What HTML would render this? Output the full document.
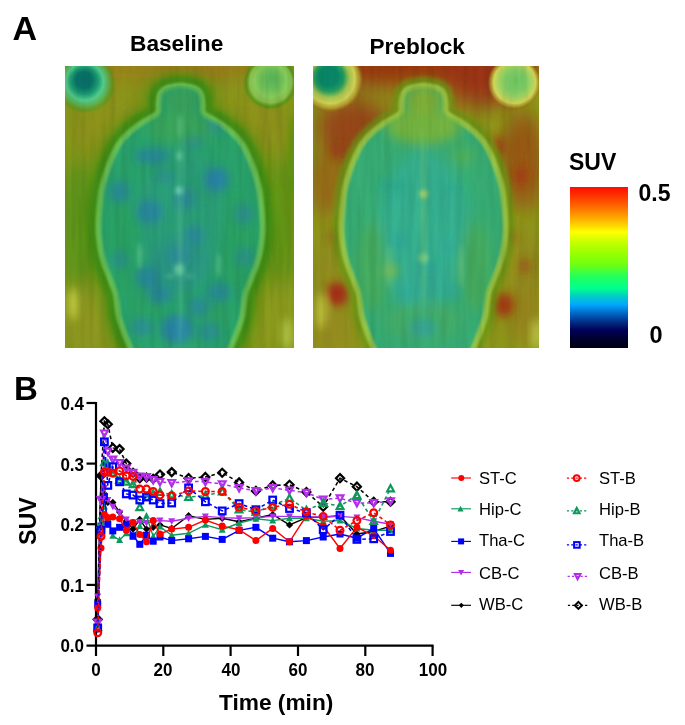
<!DOCTYPE html>
<html><head><meta charset="utf-8"><style>
html,body{margin:0;padding:0;background:#fff;}
body{width:685px;height:725px;position:relative;overflow:hidden;font-family:"Liberation Sans",sans-serif;color:#000;}
.abs{position:absolute;}
.t{position:absolute;white-space:nowrap;line-height:1;}
</style></head><body>
<svg class="abs" style="left:65px;top:66px" width="229" height="282" viewBox="0 0 229 282">
<defs>
<clipPath id="c0"><rect x="0" y="0" width="229" height="282"/></clipPath>
<filter id="b0a" x="-50%" y="-50%" width="200%" height="200%"><feGaussianBlur stdDeviation="10"/></filter>
<filter id="b0b" x="-50%" y="-50%" width="200%" height="200%"><feGaussianBlur stdDeviation="4"/></filter>
<filter id="b0c" x="-50%" y="-50%" width="200%" height="200%"><feGaussianBlur stdDeviation="2.2"/></filter>
<filter id="b0d" x="-50%" y="-50%" width="200%" height="200%"><feGaussianBlur stdDeviation="1.2"/></filter>
<filter id="b0e" x="-50%" y="-50%" width="200%" height="200%"><feGaussianBlur stdDeviation="6"/></filter>
<filter id="n0" x="0" y="0" width="100%" height="100%"><feTurbulence type="fractalNoise" baseFrequency="0.14 0.012" numOctaves="2" seed="3"/><feColorMatrix type="matrix" values="0 0 0 0 0  0 0 0 0 0  0 0 0 0 0  0 0 0 -1.6 1.0"/></filter>
<filter id="m0" x="0" y="0" width="100%" height="100%"><feTurbulence type="fractalNoise" baseFrequency="0.14 0.012" numOctaves="2" seed="7"/><feColorMatrix type="matrix" values="0 0 0 0 0  0 0 0 0 0  0 0 0 0 0  0 0 0 1.6 -0.6"/></filter>
</defs>
<g clip-path="url(#c0)">
<rect x="0" y="0" width="229" height="282" fill="#84981a"/>
<g filter="url(#b0a)">
<ellipse cx="60" cy="0" rx="90.0" ry="18.0" fill="#a0801c" opacity="0.8"/>
<ellipse cx="145" cy="0" rx="55.0" ry="14.0" fill="#a8701c" opacity="0.7"/>
<ellipse cx="50" cy="60" rx="50.0" ry="30.0" fill="#92921a" opacity="0.7"/>
<ellipse cx="180" cy="60" rx="50.0" ry="30.0" fill="#94901a" opacity="0.7"/>
<ellipse cx="14" cy="165" rx="22.0" ry="70.0" fill="#4e9618" opacity="0.7"/>
<ellipse cx="218" cy="160" rx="18.0" ry="70.0" fill="#549618" opacity="0.6"/>
<ellipse cx="20" cy="255" rx="30.0" ry="40.0" fill="#949a22" opacity="0.7"/>
<ellipse cx="215" cy="255" rx="25.0" ry="40.0" fill="#949e22" opacity="0.6"/>
</g>
<g filter="url(#b0b)">
<ellipse cx="228" cy="90" rx="3.0" ry="45.0" fill="#3e8c10" opacity="0.8"/>
<ellipse cx="225" cy="10" rx="12.0" ry="12.0" fill="#5a9a20" opacity="0.6"/>
<ellipse cx="8" cy="238" rx="4.0" ry="16.0" fill="#d8e050" opacity="0.9"/>
<ellipse cx="222" cy="268" rx="4.0" ry="16.0" fill="#c8e060" opacity="0.8"/>
<ellipse cx="215" cy="150" rx="8.0" ry="30.0" fill="#6a9818" opacity="0.5"/>
</g>
<defs><radialGradient id="g0_0" cx="0.5" cy="0.5" r="0.5" fx="0.47" fy="0.42"><stop offset="0" stop-color="#0a6c66" stop-opacity="1"/><stop offset="0.28" stop-color="#0a7468" stop-opacity="1"/><stop offset="0.45" stop-color="#1c9a70" stop-opacity="1"/><stop offset="0.62" stop-color="#52cc8c" stop-opacity="1"/><stop offset="0.78" stop-color="#5ab458" stop-opacity="0.9"/><stop offset="0.92" stop-color="#5a9a20" stop-opacity="0.6"/><stop offset="1" stop-color="#6a9a18" stop-opacity="0"/></radialGradient></defs>
<circle cx="20.5" cy="17.5" r="30" fill="url(#g0_0)"/>
<defs><radialGradient id="g0_1" cx="0.5" cy="0.5" r="0.5" fx="0.55" fy="0.4"><stop offset="0" stop-color="#58b458" stop-opacity="1"/><stop offset="0.35" stop-color="#6cc05a" stop-opacity="1"/><stop offset="0.6" stop-color="#88cc5a" stop-opacity="1"/><stop offset="0.78" stop-color="#88c050" stop-opacity="0.95"/><stop offset="0.9" stop-color="#4e9414" stop-opacity="0.7"/><stop offset="1" stop-color="#5a9018" stop-opacity="0"/></radialGradient></defs>
<circle cx="205" cy="17" r="27" fill="url(#g0_1)"/>
<path d="M115.5,19.5 C112.8,19.5 109.8,20.1 107.5,20.5 C105.2,20.9 103.2,21.2 101.5,22.0 C99.8,22.8 98.2,23.7 97.0,25.0 C95.8,26.3 95.1,27.8 94.5,30.0 C93.9,32.2 93.7,35.5 93.5,38.0 C93.3,40.5 94.0,43.2 93.5,45.0 C93.0,46.8 92.2,47.7 90.5,49.0 C88.8,50.3 85.8,51.7 83.5,53.0 C81.2,54.3 78.8,55.5 76.5,57.0 C74.2,58.5 71.8,60.2 69.5,62.0 C67.2,63.8 64.6,66.0 62.5,68.0 C60.4,70.0 58.8,71.7 57.0,74.0 C55.2,76.3 53.3,78.7 51.5,82.0 C49.7,85.3 47.7,90.0 46.0,94.0 C44.3,98.0 43.0,101.3 41.5,106.0 C40.0,110.7 38.1,116.8 37.0,122.0 C35.9,127.2 35.6,131.4 35.0,137.4 C34.4,143.4 33.7,152.2 33.5,158.0 C33.3,163.8 33.5,167.0 34.0,172.0 C34.5,177.0 35.5,183.3 36.5,188.0 C37.5,192.7 38.8,196.3 40.0,200.0 C41.2,203.7 42.8,206.8 44.0,210.0 C45.2,213.2 46.4,216.2 47.5,219.0 C48.6,221.8 49.8,224.0 50.5,227.0 C51.2,230.0 51.5,233.3 52.0,237.0 C52.5,240.7 52.8,245.3 53.5,249.0 C54.2,252.7 55.3,255.5 56.5,259.0 C57.7,262.5 59.0,266.2 60.5,270.0 C62.0,273.8 63.7,278.0 65.5,282.0 C67.3,286.0 63.2,291.0 71.5,294.0 C79.8,297.0 100.8,300.0 115.5,300.0 C130.2,300.0 151.2,297.0 159.5,294.0 C167.8,291.0 163.7,286.0 165.5,282.0 C167.3,278.0 169.0,273.8 170.5,270.0 C172.0,266.2 173.3,262.5 174.5,259.0 C175.7,255.5 176.8,252.7 177.5,249.0 C178.2,245.3 178.5,240.7 179.0,237.0 C179.5,233.3 179.8,230.0 180.5,227.0 C181.2,224.0 182.4,221.8 183.5,219.0 C184.6,216.2 185.8,213.2 187.0,210.0 C188.2,206.8 189.8,203.7 191.0,200.0 C192.2,196.3 193.5,192.7 194.5,188.0 C195.5,183.3 196.5,177.0 197.0,172.0 C197.5,167.0 197.7,163.8 197.5,158.0 C197.3,152.2 196.6,143.4 196.0,137.4 C195.4,131.4 195.1,127.2 194.0,122.0 C192.9,116.8 191.0,110.7 189.5,106.0 C188.0,101.3 186.7,98.0 185.0,94.0 C183.3,90.0 181.3,85.3 179.5,82.0 C177.7,78.7 175.8,76.3 174.0,74.0 C172.2,71.7 170.6,70.0 168.5,68.0 C166.4,66.0 163.8,63.8 161.5,62.0 C159.2,60.2 156.8,58.5 154.5,57.0 C152.2,55.5 149.8,54.3 147.5,53.0 C145.2,51.7 142.2,50.3 140.5,49.0 C138.8,47.7 138.0,46.8 137.5,45.0 C137.0,43.2 137.7,40.5 137.5,38.0 C137.3,35.5 137.1,32.2 136.5,30.0 C135.9,27.8 135.2,26.3 134.0,25.0 C132.8,23.7 131.2,22.8 129.5,22.0 C127.8,21.2 125.8,20.9 123.5,20.5 C121.2,20.1 118.2,19.5 115.5,19.5Z" fill="none" stroke="#4c9418" stroke-width="30" opacity="0.6" filter="url(#b0e)"/>
<path d="M115.5,19.5 C112.8,19.5 109.8,20.1 107.5,20.5 C105.2,20.9 103.2,21.2 101.5,22.0 C99.8,22.8 98.2,23.7 97.0,25.0 C95.8,26.3 95.1,27.8 94.5,30.0 C93.9,32.2 93.7,35.5 93.5,38.0 C93.3,40.5 94.0,43.2 93.5,45.0 C93.0,46.8 92.2,47.7 90.5,49.0 C88.8,50.3 85.8,51.7 83.5,53.0 C81.2,54.3 78.8,55.5 76.5,57.0 C74.2,58.5 71.8,60.2 69.5,62.0 C67.2,63.8 64.6,66.0 62.5,68.0 C60.4,70.0 58.8,71.7 57.0,74.0 C55.2,76.3 53.3,78.7 51.5,82.0 C49.7,85.3 47.7,90.0 46.0,94.0 C44.3,98.0 43.0,101.3 41.5,106.0 C40.0,110.7 38.1,116.8 37.0,122.0 C35.9,127.2 35.6,131.4 35.0,137.4 C34.4,143.4 33.7,152.2 33.5,158.0 C33.3,163.8 33.5,167.0 34.0,172.0 C34.5,177.0 35.5,183.3 36.5,188.0 C37.5,192.7 38.8,196.3 40.0,200.0 C41.2,203.7 42.8,206.8 44.0,210.0 C45.2,213.2 46.4,216.2 47.5,219.0 C48.6,221.8 49.8,224.0 50.5,227.0 C51.2,230.0 51.5,233.3 52.0,237.0 C52.5,240.7 52.8,245.3 53.5,249.0 C54.2,252.7 55.3,255.5 56.5,259.0 C57.7,262.5 59.0,266.2 60.5,270.0 C62.0,273.8 63.7,278.0 65.5,282.0 C67.3,286.0 63.2,291.0 71.5,294.0 C79.8,297.0 100.8,300.0 115.5,300.0 C130.2,300.0 151.2,297.0 159.5,294.0 C167.8,291.0 163.7,286.0 165.5,282.0 C167.3,278.0 169.0,273.8 170.5,270.0 C172.0,266.2 173.3,262.5 174.5,259.0 C175.7,255.5 176.8,252.7 177.5,249.0 C178.2,245.3 178.5,240.7 179.0,237.0 C179.5,233.3 179.8,230.0 180.5,227.0 C181.2,224.0 182.4,221.8 183.5,219.0 C184.6,216.2 185.8,213.2 187.0,210.0 C188.2,206.8 189.8,203.7 191.0,200.0 C192.2,196.3 193.5,192.7 194.5,188.0 C195.5,183.3 196.5,177.0 197.0,172.0 C197.5,167.0 197.7,163.8 197.5,158.0 C197.3,152.2 196.6,143.4 196.0,137.4 C195.4,131.4 195.1,127.2 194.0,122.0 C192.9,116.8 191.0,110.7 189.5,106.0 C188.0,101.3 186.7,98.0 185.0,94.0 C183.3,90.0 181.3,85.3 179.5,82.0 C177.7,78.7 175.8,76.3 174.0,74.0 C172.2,71.7 170.6,70.0 168.5,68.0 C166.4,66.0 163.8,63.8 161.5,62.0 C159.2,60.2 156.8,58.5 154.5,57.0 C152.2,55.5 149.8,54.3 147.5,53.0 C145.2,51.7 142.2,50.3 140.5,49.0 C138.8,47.7 138.0,46.8 137.5,45.0 C137.0,43.2 137.7,40.5 137.5,38.0 C137.3,35.5 137.1,32.2 136.5,30.0 C135.9,27.8 135.2,26.3 134.0,25.0 C132.8,23.7 131.2,22.8 129.5,22.0 C127.8,21.2 125.8,20.9 123.5,20.5 C121.2,20.1 118.2,19.5 115.5,19.5Z" fill="none" stroke="#3e8c12" stroke-width="20" opacity="0.85" filter="url(#b0c)"/>
<path d="M115.5,19.5 C112.8,19.5 109.8,20.1 107.5,20.5 C105.2,20.9 103.2,21.2 101.5,22.0 C99.8,22.8 98.2,23.7 97.0,25.0 C95.8,26.3 95.1,27.8 94.5,30.0 C93.9,32.2 93.7,35.5 93.5,38.0 C93.3,40.5 94.0,43.2 93.5,45.0 C93.0,46.8 92.2,47.7 90.5,49.0 C88.8,50.3 85.8,51.7 83.5,53.0 C81.2,54.3 78.8,55.5 76.5,57.0 C74.2,58.5 71.8,60.2 69.5,62.0 C67.2,63.8 64.6,66.0 62.5,68.0 C60.4,70.0 58.8,71.7 57.0,74.0 C55.2,76.3 53.3,78.7 51.5,82.0 C49.7,85.3 47.7,90.0 46.0,94.0 C44.3,98.0 43.0,101.3 41.5,106.0 C40.0,110.7 38.1,116.8 37.0,122.0 C35.9,127.2 35.6,131.4 35.0,137.4 C34.4,143.4 33.7,152.2 33.5,158.0 C33.3,163.8 33.5,167.0 34.0,172.0 C34.5,177.0 35.5,183.3 36.5,188.0 C37.5,192.7 38.8,196.3 40.0,200.0 C41.2,203.7 42.8,206.8 44.0,210.0 C45.2,213.2 46.4,216.2 47.5,219.0 C48.6,221.8 49.8,224.0 50.5,227.0 C51.2,230.0 51.5,233.3 52.0,237.0 C52.5,240.7 52.8,245.3 53.5,249.0 C54.2,252.7 55.3,255.5 56.5,259.0 C57.7,262.5 59.0,266.2 60.5,270.0 C62.0,273.8 63.7,278.0 65.5,282.0 C67.3,286.0 63.2,291.0 71.5,294.0 C79.8,297.0 100.8,300.0 115.5,300.0 C130.2,300.0 151.2,297.0 159.5,294.0 C167.8,291.0 163.7,286.0 165.5,282.0 C167.3,278.0 169.0,273.8 170.5,270.0 C172.0,266.2 173.3,262.5 174.5,259.0 C175.7,255.5 176.8,252.7 177.5,249.0 C178.2,245.3 178.5,240.7 179.0,237.0 C179.5,233.3 179.8,230.0 180.5,227.0 C181.2,224.0 182.4,221.8 183.5,219.0 C184.6,216.2 185.8,213.2 187.0,210.0 C188.2,206.8 189.8,203.7 191.0,200.0 C192.2,196.3 193.5,192.7 194.5,188.0 C195.5,183.3 196.5,177.0 197.0,172.0 C197.5,167.0 197.7,163.8 197.5,158.0 C197.3,152.2 196.6,143.4 196.0,137.4 C195.4,131.4 195.1,127.2 194.0,122.0 C192.9,116.8 191.0,110.7 189.5,106.0 C188.0,101.3 186.7,98.0 185.0,94.0 C183.3,90.0 181.3,85.3 179.5,82.0 C177.7,78.7 175.8,76.3 174.0,74.0 C172.2,71.7 170.6,70.0 168.5,68.0 C166.4,66.0 163.8,63.8 161.5,62.0 C159.2,60.2 156.8,58.5 154.5,57.0 C152.2,55.5 149.8,54.3 147.5,53.0 C145.2,51.7 142.2,50.3 140.5,49.0 C138.8,47.7 138.0,46.8 137.5,45.0 C137.0,43.2 137.7,40.5 137.5,38.0 C137.3,35.5 137.1,32.2 136.5,30.0 C135.9,27.8 135.2,26.3 134.0,25.0 C132.8,23.7 131.2,22.8 129.5,22.0 C127.8,21.2 125.8,20.9 123.5,20.5 C121.2,20.1 118.2,19.5 115.5,19.5Z" fill="#2aa46c" filter="url(#b0d)"/>
<path d="M115.5,19.5 C112.8,19.5 109.8,20.1 107.5,20.5 C105.2,20.9 103.2,21.2 101.5,22.0 C99.8,22.8 98.2,23.7 97.0,25.0 C95.8,26.3 95.1,27.8 94.5,30.0 C93.9,32.2 93.7,35.5 93.5,38.0 C93.3,40.5 94.0,43.2 93.5,45.0 C93.0,46.8 92.2,47.7 90.5,49.0 C88.8,50.3 85.8,51.7 83.5,53.0 C81.2,54.3 78.8,55.5 76.5,57.0 C74.2,58.5 71.8,60.2 69.5,62.0 C67.2,63.8 64.6,66.0 62.5,68.0 C60.4,70.0 58.8,71.7 57.0,74.0 C55.2,76.3 53.3,78.7 51.5,82.0 C49.7,85.3 47.7,90.0 46.0,94.0 C44.3,98.0 43.0,101.3 41.5,106.0 C40.0,110.7 38.1,116.8 37.0,122.0 C35.9,127.2 35.6,131.4 35.0,137.4 C34.4,143.4 33.7,152.2 33.5,158.0 C33.3,163.8 33.5,167.0 34.0,172.0 C34.5,177.0 35.5,183.3 36.5,188.0 C37.5,192.7 38.8,196.3 40.0,200.0 C41.2,203.7 42.8,206.8 44.0,210.0 C45.2,213.2 46.4,216.2 47.5,219.0 C48.6,221.8 49.8,224.0 50.5,227.0 C51.2,230.0 51.5,233.3 52.0,237.0 C52.5,240.7 52.8,245.3 53.5,249.0 C54.2,252.7 55.3,255.5 56.5,259.0 C57.7,262.5 59.0,266.2 60.5,270.0 C62.0,273.8 63.7,278.0 65.5,282.0 C67.3,286.0 63.2,291.0 71.5,294.0 C79.8,297.0 100.8,300.0 115.5,300.0 C130.2,300.0 151.2,297.0 159.5,294.0 C167.8,291.0 163.7,286.0 165.5,282.0 C167.3,278.0 169.0,273.8 170.5,270.0 C172.0,266.2 173.3,262.5 174.5,259.0 C175.7,255.5 176.8,252.7 177.5,249.0 C178.2,245.3 178.5,240.7 179.0,237.0 C179.5,233.3 179.8,230.0 180.5,227.0 C181.2,224.0 182.4,221.8 183.5,219.0 C184.6,216.2 185.8,213.2 187.0,210.0 C188.2,206.8 189.8,203.7 191.0,200.0 C192.2,196.3 193.5,192.7 194.5,188.0 C195.5,183.3 196.5,177.0 197.0,172.0 C197.5,167.0 197.7,163.8 197.5,158.0 C197.3,152.2 196.6,143.4 196.0,137.4 C195.4,131.4 195.1,127.2 194.0,122.0 C192.9,116.8 191.0,110.7 189.5,106.0 C188.0,101.3 186.7,98.0 185.0,94.0 C183.3,90.0 181.3,85.3 179.5,82.0 C177.7,78.7 175.8,76.3 174.0,74.0 C172.2,71.7 170.6,70.0 168.5,68.0 C166.4,66.0 163.8,63.8 161.5,62.0 C159.2,60.2 156.8,58.5 154.5,57.0 C152.2,55.5 149.8,54.3 147.5,53.0 C145.2,51.7 142.2,50.3 140.5,49.0 C138.8,47.7 138.0,46.8 137.5,45.0 C137.0,43.2 137.7,40.5 137.5,38.0 C137.3,35.5 137.1,32.2 136.5,30.0 C135.9,27.8 135.2,26.3 134.0,25.0 C132.8,23.7 131.2,22.8 129.5,22.0 C127.8,21.2 125.8,20.9 123.5,20.5 C121.2,20.1 118.2,19.5 115.5,19.5Z" fill="none" stroke="#72c85a" stroke-width="6" opacity="0.8" filter="url(#b0d)"/>
<clipPath id="bc0"><path d="M115.5,19.5 C112.8,19.5 109.8,20.1 107.5,20.5 C105.2,20.9 103.2,21.2 101.5,22.0 C99.8,22.8 98.2,23.7 97.0,25.0 C95.8,26.3 95.1,27.8 94.5,30.0 C93.9,32.2 93.7,35.5 93.5,38.0 C93.3,40.5 94.0,43.2 93.5,45.0 C93.0,46.8 92.2,47.7 90.5,49.0 C88.8,50.3 85.8,51.7 83.5,53.0 C81.2,54.3 78.8,55.5 76.5,57.0 C74.2,58.5 71.8,60.2 69.5,62.0 C67.2,63.8 64.6,66.0 62.5,68.0 C60.4,70.0 58.8,71.7 57.0,74.0 C55.2,76.3 53.3,78.7 51.5,82.0 C49.7,85.3 47.7,90.0 46.0,94.0 C44.3,98.0 43.0,101.3 41.5,106.0 C40.0,110.7 38.1,116.8 37.0,122.0 C35.9,127.2 35.6,131.4 35.0,137.4 C34.4,143.4 33.7,152.2 33.5,158.0 C33.3,163.8 33.5,167.0 34.0,172.0 C34.5,177.0 35.5,183.3 36.5,188.0 C37.5,192.7 38.8,196.3 40.0,200.0 C41.2,203.7 42.8,206.8 44.0,210.0 C45.2,213.2 46.4,216.2 47.5,219.0 C48.6,221.8 49.8,224.0 50.5,227.0 C51.2,230.0 51.5,233.3 52.0,237.0 C52.5,240.7 52.8,245.3 53.5,249.0 C54.2,252.7 55.3,255.5 56.5,259.0 C57.7,262.5 59.0,266.2 60.5,270.0 C62.0,273.8 63.7,278.0 65.5,282.0 C67.3,286.0 63.2,291.0 71.5,294.0 C79.8,297.0 100.8,300.0 115.5,300.0 C130.2,300.0 151.2,297.0 159.5,294.0 C167.8,291.0 163.7,286.0 165.5,282.0 C167.3,278.0 169.0,273.8 170.5,270.0 C172.0,266.2 173.3,262.5 174.5,259.0 C175.7,255.5 176.8,252.7 177.5,249.0 C178.2,245.3 178.5,240.7 179.0,237.0 C179.5,233.3 179.8,230.0 180.5,227.0 C181.2,224.0 182.4,221.8 183.5,219.0 C184.6,216.2 185.8,213.2 187.0,210.0 C188.2,206.8 189.8,203.7 191.0,200.0 C192.2,196.3 193.5,192.7 194.5,188.0 C195.5,183.3 196.5,177.0 197.0,172.0 C197.5,167.0 197.7,163.8 197.5,158.0 C197.3,152.2 196.6,143.4 196.0,137.4 C195.4,131.4 195.1,127.2 194.0,122.0 C192.9,116.8 191.0,110.7 189.5,106.0 C188.0,101.3 186.7,98.0 185.0,94.0 C183.3,90.0 181.3,85.3 179.5,82.0 C177.7,78.7 175.8,76.3 174.0,74.0 C172.2,71.7 170.6,70.0 168.5,68.0 C166.4,66.0 163.8,63.8 161.5,62.0 C159.2,60.2 156.8,58.5 154.5,57.0 C152.2,55.5 149.8,54.3 147.5,53.0 C145.2,51.7 142.2,50.3 140.5,49.0 C138.8,47.7 138.0,46.8 137.5,45.0 C137.0,43.2 137.7,40.5 137.5,38.0 C137.3,35.5 137.1,32.2 136.5,30.0 C135.9,27.8 135.2,26.3 134.0,25.0 C132.8,23.7 131.2,22.8 129.5,22.0 C127.8,21.2 125.8,20.9 123.5,20.5 C121.2,20.1 118.2,19.5 115.5,19.5Z"/></clipPath>
<g clip-path="url(#bc0)">
<g filter="url(#b0e)">
<ellipse cx="115.5" cy="33" rx="19.0" ry="15.0" fill="#3aa05a" opacity="0.85"/>
<ellipse cx="115.5" cy="62" rx="34.0" ry="16.0" fill="#3ea656" opacity="0.7"/>
<ellipse cx="115" cy="150" rx="45.0" ry="70.0" fill="#2a9c88" opacity="0.45"/>
<ellipse cx="60" cy="180" rx="16.0" ry="50.0" fill="#2ea45c" opacity="0.5"/>
<ellipse cx="172" cy="175" rx="16.0" ry="50.0" fill="#2ea45c" opacity="0.5"/>
<ellipse cx="95" cy="100" rx="18.0" ry="14.0" fill="#2aa060" opacity="0.5"/>
<ellipse cx="140" cy="125" rx="16.0" ry="14.0" fill="#2a9c70" opacity="0.4"/>
<ellipse cx="80" cy="240" rx="16.0" ry="14.0" fill="#2aa460" opacity="0.45"/>
<ellipse cx="150" cy="250" rx="16.0" ry="14.0" fill="#2aa060" opacity="0.45"/>
<ellipse cx="115" cy="290" rx="30.0" ry="16.0" fill="#3aa868" opacity="0.5"/>
<ellipse cx="115" cy="200" rx="30.0" ry="30.0" fill="#2a90a0" opacity="0.35"/>
</g>
<g filter="url(#b0b)">
<ellipse cx="87" cy="90" rx="17.55" ry="8.100000000000001" fill="#2a7cb8" opacity="0.6"/>
<ellipse cx="129" cy="76" rx="10.8" ry="6.75" fill="#2a7cb8" opacity="0.35"/>
<ellipse cx="151.6" cy="113.5" rx="12.15" ry="12.15" fill="#2a7cb8" opacity="0.75"/>
<ellipse cx="54.8" cy="126" rx="10.8" ry="10.8" fill="#2a7cb8" opacity="0.55"/>
<ellipse cx="84.6" cy="145.7" rx="13.5" ry="12.15" fill="#2a7cb8" opacity="0.6"/>
<ellipse cx="119.3" cy="133.3" rx="10.8" ry="10.8" fill="#2a7cb8" opacity="0.5"/>
<ellipse cx="178.9" cy="148" rx="9.450000000000001" ry="10.8" fill="#2a7cb8" opacity="0.45"/>
<ellipse cx="82" cy="211" rx="12.15" ry="10.8" fill="#2a7cb8" opacity="0.6"/>
<ellipse cx="94.5" cy="228.4" rx="12.15" ry="9.450000000000001" fill="#2a7cb8" opacity="0.6"/>
<ellipse cx="129" cy="169" rx="10.8" ry="9.450000000000001" fill="#2a7cb8" opacity="0.5"/>
<ellipse cx="114.4" cy="188.7" rx="10.8" ry="9.450000000000001" fill="#2a7cb8" opacity="0.45"/>
<ellipse cx="154" cy="226" rx="12.15" ry="9.450000000000001" fill="#2a7cb8" opacity="0.55"/>
<ellipse cx="134" cy="240.8" rx="10.8" ry="9.450000000000001" fill="#2a7cb8" opacity="0.55"/>
<ellipse cx="112" cy="263" rx="16.200000000000003" ry="14.850000000000001" fill="#2a7cb8" opacity="0.75"/>
<ellipse cx="144" cy="265.7" rx="10.8" ry="9.450000000000001" fill="#2a7cb8" opacity="0.5"/>
<ellipse cx="77" cy="260.7" rx="10.8" ry="9.450000000000001" fill="#2a7cb8" opacity="0.5"/>
<ellipse cx="54.8" cy="193.7" rx="9.450000000000001" ry="9.450000000000001" fill="#2a7cb8" opacity="0.4"/>
<ellipse cx="179" cy="191" rx="9.450000000000001" ry="9.450000000000001" fill="#2a7cb8" opacity="0.4"/>
<ellipse cx="150" cy="60" rx="10.8" ry="8.100000000000001" fill="#2a7cb8" opacity="0.3"/>
<ellipse cx="100" cy="110" rx="10.8" ry="8.100000000000001" fill="#2a7cb8" opacity="0.35"/>
</g>
<g filter="url(#b0c)">
<ellipse cx="115.5" cy="170" rx="1.8" ry="110.0" fill="#60d0a0" opacity="0.55"/>
<ellipse cx="114.4" cy="124.6" rx="4.0" ry="4.0" fill="#80e0c0" opacity="0.8"/>
<ellipse cx="114.4" cy="90" rx="3.0" ry="5.0" fill="#80e0b0" opacity="0.6"/>
<ellipse cx="114.4" cy="203.6" rx="5.0" ry="6.0" fill="#80e0b0" opacity="0.7"/>
<ellipse cx="74.7" cy="190" rx="1.6" ry="13.0" fill="#70d8a0" opacity="0.7"/>
<ellipse cx="154" cy="199" rx="1.6" ry="12.0" fill="#70d8a0" opacity="0.7"/>
<ellipse cx="105" cy="210" rx="5.0" ry="1.5" fill="#70d8a0" opacity="0.5"/>
<ellipse cx="124" cy="210" rx="5.0" ry="1.5" fill="#70d8a0" opacity="0.5"/>
<ellipse cx="115" cy="60" rx="2.0" ry="12.0" fill="#70d090" opacity="0.6"/>
</g>
</g>
<rect x="0" y="0" width="229" height="282" fill="#ffffff" opacity="0.07" filter="url(#n0)"/>
<rect x="0" y="0" width="229" height="282" fill="#000000" opacity="0.07" filter="url(#m0)"/>
</g></svg>
<svg class="abs" style="left:313px;top:66px" width="226" height="282" viewBox="0 0 226 282">
<defs>
<clipPath id="c1"><rect x="0" y="0" width="226" height="282"/></clipPath>
<filter id="b1a" x="-50%" y="-50%" width="200%" height="200%"><feGaussianBlur stdDeviation="10"/></filter>
<filter id="b1b" x="-50%" y="-50%" width="200%" height="200%"><feGaussianBlur stdDeviation="4"/></filter>
<filter id="b1c" x="-50%" y="-50%" width="200%" height="200%"><feGaussianBlur stdDeviation="2.2"/></filter>
<filter id="b1d" x="-50%" y="-50%" width="200%" height="200%"><feGaussianBlur stdDeviation="1.2"/></filter>
<filter id="b1e" x="-50%" y="-50%" width="200%" height="200%"><feGaussianBlur stdDeviation="6"/></filter>
<filter id="n1" x="0" y="0" width="100%" height="100%"><feTurbulence type="fractalNoise" baseFrequency="0.14 0.012" numOctaves="2" seed="4"/><feColorMatrix type="matrix" values="0 0 0 0 0  0 0 0 0 0  0 0 0 0 0  0 0 0 -1.6 1.0"/></filter>
<filter id="m1" x="0" y="0" width="100%" height="100%"><feTurbulence type="fractalNoise" baseFrequency="0.14 0.012" numOctaves="2" seed="8"/><feColorMatrix type="matrix" values="0 0 0 0 0  0 0 0 0 0  0 0 0 0 0  0 0 0 1.6 -0.6"/></filter>
</defs>
<g clip-path="url(#c1)">
<rect x="0" y="0" width="226" height="282" fill="#8e9a1c"/>
<g filter="url(#b1a)">
<ellipse cx="110" cy="0" rx="125.0" ry="22.0" fill="#9c3412" opacity="0.95"/>
<ellipse cx="40" cy="62" rx="36.0" ry="30.0" fill="#9c3814" opacity="0.85"/>
<ellipse cx="165" cy="20" rx="45.0" ry="22.0" fill="#9c3414" opacity="0.9"/>
<ellipse cx="210" cy="95" rx="22.0" ry="50.0" fill="#9c4016" opacity="0.75"/>
<ellipse cx="15" cy="118" rx="20.0" ry="35.0" fill="#9c4a18" opacity="0.6"/>
<ellipse cx="14" cy="225" rx="18.0" ry="60.0" fill="#a08a20" opacity="0.5"/>
<ellipse cx="212" cy="220" rx="18.0" ry="60.0" fill="#a08420" opacity="0.5"/>
<ellipse cx="210" cy="250" rx="18.0" ry="30.0" fill="#9c7a1c" opacity="0.45"/>
<ellipse cx="20" cy="270" rx="25.0" ry="30.0" fill="#9c8a20" opacity="0.5"/>
<ellipse cx="110" cy="40" rx="40.0" ry="22.0" fill="#a0801c" opacity="0.7"/>
<ellipse cx="60" cy="150" rx="10.0" ry="60.0" fill="#8c9a1c" opacity="0.5"/>
</g>
<g filter="url(#b1b)">
<ellipse cx="24" cy="228" rx="11.0" ry="12.0" fill="#a82414" opacity="0.9"/>
<ellipse cx="191" cy="239" rx="10.0" ry="12.0" fill="#a82814" opacity="0.8"/>
<ellipse cx="185" cy="80" rx="9.0" ry="10.0" fill="#a82c14" opacity="0.6"/>
<ellipse cx="208" cy="110" rx="7.0" ry="9.0" fill="#a82c14" opacity="0.6"/>
<ellipse cx="25" cy="85" rx="8.0" ry="8.0" fill="#a02c14" opacity="0.5"/>
<ellipse cx="196" cy="170" rx="7.0" ry="9.0" fill="#a83014" opacity="0.5"/>
<ellipse cx="212" cy="200" rx="6.0" ry="8.0" fill="#a83014" opacity="0.5"/>
<ellipse cx="20" cy="170" rx="6.0" ry="8.0" fill="#a03814" opacity="0.4"/>
<ellipse cx="8" cy="245" rx="4.0" ry="18.0" fill="#d8e050" opacity="0.85"/>
<ellipse cx="223" cy="268" rx="4.0" ry="16.0" fill="#d0e060" opacity="0.8"/>
</g>
<defs><radialGradient id="g1_0" cx="0.5" cy="0.5" r="0.5" fx="0.45" fy="0.42"><stop offset="0" stop-color="#0a8668" stop-opacity="1"/><stop offset="0.3" stop-color="#0a8a68" stop-opacity="1"/><stop offset="0.45" stop-color="#2aa060" stop-opacity="1"/><stop offset="0.6" stop-color="#a8c850" stop-opacity="1"/><stop offset="0.75" stop-color="#d4d458" stop-opacity="1"/><stop offset="0.88" stop-color="#b8a830" stop-opacity="0.8"/><stop offset="1" stop-color="#a05020" stop-opacity="0"/></radialGradient></defs>
<circle cx="18" cy="14" r="33" fill="url(#g1_0)"/>
<defs><radialGradient id="g1_1" cx="0.5" cy="0.5" r="0.5" fx="0.55" fy="0.45"><stop offset="0" stop-color="#70c860" stop-opacity="1"/><stop offset="0.4" stop-color="#80d068" stop-opacity="1"/><stop offset="0.62" stop-color="#a8d460" stop-opacity="1"/><stop offset="0.78" stop-color="#d4d458" stop-opacity="1"/><stop offset="0.9" stop-color="#b0a030" stop-opacity="0.7"/><stop offset="1" stop-color="#a04818" stop-opacity="0"/></radialGradient></defs>
<circle cx="201" cy="17" r="27" fill="url(#g1_1)"/>
<path d="M110.5,19.5 C107.8,19.5 104.8,20.1 102.5,20.5 C100.2,20.9 98.2,21.2 96.5,22.0 C94.8,22.8 93.2,23.7 92.0,25.0 C90.8,26.3 90.1,27.8 89.5,30.0 C88.9,32.2 88.7,35.5 88.5,38.0 C88.3,40.5 89.0,43.2 88.5,45.0 C88.0,46.8 87.2,47.7 85.5,49.0 C83.8,50.3 80.8,51.7 78.5,53.0 C76.2,54.3 73.8,55.5 71.5,57.0 C69.2,58.5 66.8,60.2 64.5,62.0 C62.2,63.8 59.6,66.0 57.5,68.0 C55.4,70.0 53.8,71.7 52.0,74.0 C50.2,76.3 48.3,78.7 46.5,82.0 C44.7,85.3 42.7,90.0 41.0,94.0 C39.3,98.0 38.0,101.3 36.5,106.0 C35.0,110.7 33.1,116.8 32.0,122.0 C30.9,127.2 30.6,131.4 30.0,137.4 C29.4,143.4 28.7,152.2 28.5,158.0 C28.3,163.8 28.5,167.0 29.0,172.0 C29.5,177.0 30.5,183.3 31.5,188.0 C32.5,192.7 33.8,196.3 35.0,200.0 C36.2,203.7 37.8,206.8 39.0,210.0 C40.2,213.2 41.4,216.2 42.5,219.0 C43.6,221.8 44.8,224.0 45.5,227.0 C46.2,230.0 46.5,233.3 47.0,237.0 C47.5,240.7 47.8,245.3 48.5,249.0 C49.2,252.7 50.3,255.5 51.5,259.0 C52.7,262.5 54.0,266.2 55.5,270.0 C57.0,273.8 58.7,278.0 60.5,282.0 C62.3,286.0 58.2,291.0 66.5,294.0 C74.8,297.0 95.8,300.0 110.5,300.0 C125.2,300.0 146.2,297.0 154.5,294.0 C162.8,291.0 158.7,286.0 160.5,282.0 C162.3,278.0 164.0,273.8 165.5,270.0 C167.0,266.2 168.3,262.5 169.5,259.0 C170.7,255.5 171.8,252.7 172.5,249.0 C173.2,245.3 173.5,240.7 174.0,237.0 C174.5,233.3 174.8,230.0 175.5,227.0 C176.2,224.0 177.4,221.8 178.5,219.0 C179.6,216.2 180.8,213.2 182.0,210.0 C183.2,206.8 184.8,203.7 186.0,200.0 C187.2,196.3 188.5,192.7 189.5,188.0 C190.5,183.3 191.5,177.0 192.0,172.0 C192.5,167.0 192.7,163.8 192.5,158.0 C192.3,152.2 191.6,143.4 191.0,137.4 C190.4,131.4 190.1,127.2 189.0,122.0 C187.9,116.8 186.0,110.7 184.5,106.0 C183.0,101.3 181.7,98.0 180.0,94.0 C178.3,90.0 176.3,85.3 174.5,82.0 C172.7,78.7 170.8,76.3 169.0,74.0 C167.2,71.7 165.6,70.0 163.5,68.0 C161.4,66.0 158.8,63.8 156.5,62.0 C154.2,60.2 151.8,58.5 149.5,57.0 C147.2,55.5 144.8,54.3 142.5,53.0 C140.2,51.7 137.2,50.3 135.5,49.0 C133.8,47.7 133.0,46.8 132.5,45.0 C132.0,43.2 132.7,40.5 132.5,38.0 C132.3,35.5 132.1,32.2 131.5,30.0 C130.9,27.8 130.2,26.3 129.0,25.0 C127.8,23.7 126.2,22.8 124.5,22.0 C122.8,21.2 120.8,20.9 118.5,20.5 C116.2,20.1 113.2,19.5 110.5,19.5Z" fill="none" stroke="#6a9414" stroke-width="18" opacity="0.8" filter="url(#b1c)"/>
<path d="M110.5,19.5 C107.8,19.5 104.8,20.1 102.5,20.5 C100.2,20.9 98.2,21.2 96.5,22.0 C94.8,22.8 93.2,23.7 92.0,25.0 C90.8,26.3 90.1,27.8 89.5,30.0 C88.9,32.2 88.7,35.5 88.5,38.0 C88.3,40.5 89.0,43.2 88.5,45.0 C88.0,46.8 87.2,47.7 85.5,49.0 C83.8,50.3 80.8,51.7 78.5,53.0 C76.2,54.3 73.8,55.5 71.5,57.0 C69.2,58.5 66.8,60.2 64.5,62.0 C62.2,63.8 59.6,66.0 57.5,68.0 C55.4,70.0 53.8,71.7 52.0,74.0 C50.2,76.3 48.3,78.7 46.5,82.0 C44.7,85.3 42.7,90.0 41.0,94.0 C39.3,98.0 38.0,101.3 36.5,106.0 C35.0,110.7 33.1,116.8 32.0,122.0 C30.9,127.2 30.6,131.4 30.0,137.4 C29.4,143.4 28.7,152.2 28.5,158.0 C28.3,163.8 28.5,167.0 29.0,172.0 C29.5,177.0 30.5,183.3 31.5,188.0 C32.5,192.7 33.8,196.3 35.0,200.0 C36.2,203.7 37.8,206.8 39.0,210.0 C40.2,213.2 41.4,216.2 42.5,219.0 C43.6,221.8 44.8,224.0 45.5,227.0 C46.2,230.0 46.5,233.3 47.0,237.0 C47.5,240.7 47.8,245.3 48.5,249.0 C49.2,252.7 50.3,255.5 51.5,259.0 C52.7,262.5 54.0,266.2 55.5,270.0 C57.0,273.8 58.7,278.0 60.5,282.0 C62.3,286.0 58.2,291.0 66.5,294.0 C74.8,297.0 95.8,300.0 110.5,300.0 C125.2,300.0 146.2,297.0 154.5,294.0 C162.8,291.0 158.7,286.0 160.5,282.0 C162.3,278.0 164.0,273.8 165.5,270.0 C167.0,266.2 168.3,262.5 169.5,259.0 C170.7,255.5 171.8,252.7 172.5,249.0 C173.2,245.3 173.5,240.7 174.0,237.0 C174.5,233.3 174.8,230.0 175.5,227.0 C176.2,224.0 177.4,221.8 178.5,219.0 C179.6,216.2 180.8,213.2 182.0,210.0 C183.2,206.8 184.8,203.7 186.0,200.0 C187.2,196.3 188.5,192.7 189.5,188.0 C190.5,183.3 191.5,177.0 192.0,172.0 C192.5,167.0 192.7,163.8 192.5,158.0 C192.3,152.2 191.6,143.4 191.0,137.4 C190.4,131.4 190.1,127.2 189.0,122.0 C187.9,116.8 186.0,110.7 184.5,106.0 C183.0,101.3 181.7,98.0 180.0,94.0 C178.3,90.0 176.3,85.3 174.5,82.0 C172.7,78.7 170.8,76.3 169.0,74.0 C167.2,71.7 165.6,70.0 163.5,68.0 C161.4,66.0 158.8,63.8 156.5,62.0 C154.2,60.2 151.8,58.5 149.5,57.0 C147.2,55.5 144.8,54.3 142.5,53.0 C140.2,51.7 137.2,50.3 135.5,49.0 C133.8,47.7 133.0,46.8 132.5,45.0 C132.0,43.2 132.7,40.5 132.5,38.0 C132.3,35.5 132.1,32.2 131.5,30.0 C130.9,27.8 130.2,26.3 129.0,25.0 C127.8,23.7 126.2,22.8 124.5,22.0 C122.8,21.2 120.8,20.9 118.5,20.5 C116.2,20.1 113.2,19.5 110.5,19.5Z" fill="#38ae74" filter="url(#b1d)"/>
<path d="M110.5,19.5 C107.8,19.5 104.8,20.1 102.5,20.5 C100.2,20.9 98.2,21.2 96.5,22.0 C94.8,22.8 93.2,23.7 92.0,25.0 C90.8,26.3 90.1,27.8 89.5,30.0 C88.9,32.2 88.7,35.5 88.5,38.0 C88.3,40.5 89.0,43.2 88.5,45.0 C88.0,46.8 87.2,47.7 85.5,49.0 C83.8,50.3 80.8,51.7 78.5,53.0 C76.2,54.3 73.8,55.5 71.5,57.0 C69.2,58.5 66.8,60.2 64.5,62.0 C62.2,63.8 59.6,66.0 57.5,68.0 C55.4,70.0 53.8,71.7 52.0,74.0 C50.2,76.3 48.3,78.7 46.5,82.0 C44.7,85.3 42.7,90.0 41.0,94.0 C39.3,98.0 38.0,101.3 36.5,106.0 C35.0,110.7 33.1,116.8 32.0,122.0 C30.9,127.2 30.6,131.4 30.0,137.4 C29.4,143.4 28.7,152.2 28.5,158.0 C28.3,163.8 28.5,167.0 29.0,172.0 C29.5,177.0 30.5,183.3 31.5,188.0 C32.5,192.7 33.8,196.3 35.0,200.0 C36.2,203.7 37.8,206.8 39.0,210.0 C40.2,213.2 41.4,216.2 42.5,219.0 C43.6,221.8 44.8,224.0 45.5,227.0 C46.2,230.0 46.5,233.3 47.0,237.0 C47.5,240.7 47.8,245.3 48.5,249.0 C49.2,252.7 50.3,255.5 51.5,259.0 C52.7,262.5 54.0,266.2 55.5,270.0 C57.0,273.8 58.7,278.0 60.5,282.0 C62.3,286.0 58.2,291.0 66.5,294.0 C74.8,297.0 95.8,300.0 110.5,300.0 C125.2,300.0 146.2,297.0 154.5,294.0 C162.8,291.0 158.7,286.0 160.5,282.0 C162.3,278.0 164.0,273.8 165.5,270.0 C167.0,266.2 168.3,262.5 169.5,259.0 C170.7,255.5 171.8,252.7 172.5,249.0 C173.2,245.3 173.5,240.7 174.0,237.0 C174.5,233.3 174.8,230.0 175.5,227.0 C176.2,224.0 177.4,221.8 178.5,219.0 C179.6,216.2 180.8,213.2 182.0,210.0 C183.2,206.8 184.8,203.7 186.0,200.0 C187.2,196.3 188.5,192.7 189.5,188.0 C190.5,183.3 191.5,177.0 192.0,172.0 C192.5,167.0 192.7,163.8 192.5,158.0 C192.3,152.2 191.6,143.4 191.0,137.4 C190.4,131.4 190.1,127.2 189.0,122.0 C187.9,116.8 186.0,110.7 184.5,106.0 C183.0,101.3 181.7,98.0 180.0,94.0 C178.3,90.0 176.3,85.3 174.5,82.0 C172.7,78.7 170.8,76.3 169.0,74.0 C167.2,71.7 165.6,70.0 163.5,68.0 C161.4,66.0 158.8,63.8 156.5,62.0 C154.2,60.2 151.8,58.5 149.5,57.0 C147.2,55.5 144.8,54.3 142.5,53.0 C140.2,51.7 137.2,50.3 135.5,49.0 C133.8,47.7 133.0,46.8 132.5,45.0 C132.0,43.2 132.7,40.5 132.5,38.0 C132.3,35.5 132.1,32.2 131.5,30.0 C130.9,27.8 130.2,26.3 129.0,25.0 C127.8,23.7 126.2,22.8 124.5,22.0 C122.8,21.2 120.8,20.9 118.5,20.5 C116.2,20.1 113.2,19.5 110.5,19.5Z" fill="none" stroke="#a4cc48" stroke-width="6" opacity="0.8" filter="url(#b1d)"/>
<clipPath id="bc1"><path d="M110.5,19.5 C107.8,19.5 104.8,20.1 102.5,20.5 C100.2,20.9 98.2,21.2 96.5,22.0 C94.8,22.8 93.2,23.7 92.0,25.0 C90.8,26.3 90.1,27.8 89.5,30.0 C88.9,32.2 88.7,35.5 88.5,38.0 C88.3,40.5 89.0,43.2 88.5,45.0 C88.0,46.8 87.2,47.7 85.5,49.0 C83.8,50.3 80.8,51.7 78.5,53.0 C76.2,54.3 73.8,55.5 71.5,57.0 C69.2,58.5 66.8,60.2 64.5,62.0 C62.2,63.8 59.6,66.0 57.5,68.0 C55.4,70.0 53.8,71.7 52.0,74.0 C50.2,76.3 48.3,78.7 46.5,82.0 C44.7,85.3 42.7,90.0 41.0,94.0 C39.3,98.0 38.0,101.3 36.5,106.0 C35.0,110.7 33.1,116.8 32.0,122.0 C30.9,127.2 30.6,131.4 30.0,137.4 C29.4,143.4 28.7,152.2 28.5,158.0 C28.3,163.8 28.5,167.0 29.0,172.0 C29.5,177.0 30.5,183.3 31.5,188.0 C32.5,192.7 33.8,196.3 35.0,200.0 C36.2,203.7 37.8,206.8 39.0,210.0 C40.2,213.2 41.4,216.2 42.5,219.0 C43.6,221.8 44.8,224.0 45.5,227.0 C46.2,230.0 46.5,233.3 47.0,237.0 C47.5,240.7 47.8,245.3 48.5,249.0 C49.2,252.7 50.3,255.5 51.5,259.0 C52.7,262.5 54.0,266.2 55.5,270.0 C57.0,273.8 58.7,278.0 60.5,282.0 C62.3,286.0 58.2,291.0 66.5,294.0 C74.8,297.0 95.8,300.0 110.5,300.0 C125.2,300.0 146.2,297.0 154.5,294.0 C162.8,291.0 158.7,286.0 160.5,282.0 C162.3,278.0 164.0,273.8 165.5,270.0 C167.0,266.2 168.3,262.5 169.5,259.0 C170.7,255.5 171.8,252.7 172.5,249.0 C173.2,245.3 173.5,240.7 174.0,237.0 C174.5,233.3 174.8,230.0 175.5,227.0 C176.2,224.0 177.4,221.8 178.5,219.0 C179.6,216.2 180.8,213.2 182.0,210.0 C183.2,206.8 184.8,203.7 186.0,200.0 C187.2,196.3 188.5,192.7 189.5,188.0 C190.5,183.3 191.5,177.0 192.0,172.0 C192.5,167.0 192.7,163.8 192.5,158.0 C192.3,152.2 191.6,143.4 191.0,137.4 C190.4,131.4 190.1,127.2 189.0,122.0 C187.9,116.8 186.0,110.7 184.5,106.0 C183.0,101.3 181.7,98.0 180.0,94.0 C178.3,90.0 176.3,85.3 174.5,82.0 C172.7,78.7 170.8,76.3 169.0,74.0 C167.2,71.7 165.6,70.0 163.5,68.0 C161.4,66.0 158.8,63.8 156.5,62.0 C154.2,60.2 151.8,58.5 149.5,57.0 C147.2,55.5 144.8,54.3 142.5,53.0 C140.2,51.7 137.2,50.3 135.5,49.0 C133.8,47.7 133.0,46.8 132.5,45.0 C132.0,43.2 132.7,40.5 132.5,38.0 C132.3,35.5 132.1,32.2 131.5,30.0 C130.9,27.8 130.2,26.3 129.0,25.0 C127.8,23.7 126.2,22.8 124.5,22.0 C122.8,21.2 120.8,20.9 118.5,20.5 C116.2,20.1 113.2,19.5 110.5,19.5Z"/></clipPath>
<g clip-path="url(#bc1)">
<g filter="url(#b1e)">
<ellipse cx="110.5" cy="33" rx="19.0" ry="15.0" fill="#8cb030" opacity="0.85"/>
<ellipse cx="110.5" cy="60" rx="38.0" ry="18.0" fill="#84b834" opacity="0.8"/>
<ellipse cx="110" cy="165" rx="44.0" ry="80.0" fill="#36b6a0" opacity="0.65"/>
<ellipse cx="60" cy="200" rx="16.0" ry="45.0" fill="#58b048" opacity="0.45"/>
<ellipse cx="162" cy="200" rx="16.0" ry="45.0" fill="#58b048" opacity="0.45"/>
<ellipse cx="110" cy="255" rx="40.0" ry="20.0" fill="#50b060" opacity="0.5"/>
<ellipse cx="80" cy="130" rx="16.0" ry="14.0" fill="#30b090" opacity="0.45"/>
<ellipse cx="145" cy="140" rx="16.0" ry="14.0" fill="#30b090" opacity="0.45"/>
<ellipse cx="110" cy="215" rx="22.0" ry="18.0" fill="#30aa98" opacity="0.4"/>
<ellipse cx="150" cy="90" rx="12.0" ry="10.0" fill="#70b838" opacity="0.4"/>
</g>
<g filter="url(#b1b)">
<ellipse cx="80" cy="120" rx="14.0" ry="6.0" fill="#2aa890" opacity="0.6"/>
<ellipse cx="140" cy="122" rx="12.0" ry="6.0" fill="#2aa890" opacity="0.5"/>
<ellipse cx="85" cy="175" rx="12.0" ry="8.0" fill="#2aa8a0" opacity="0.5"/>
<ellipse cx="135" cy="180" rx="10.0" ry="8.0" fill="#2aa8a0" opacity="0.45"/>
<ellipse cx="78" cy="205" rx="8.0" ry="7.0" fill="#98b828" opacity="0.55"/>
<ellipse cx="115" cy="200" rx="10.0" ry="8.0" fill="#2aa8a0" opacity="0.4"/>
<ellipse cx="92" cy="230" rx="10.0" ry="8.0" fill="#2aa8a0" opacity="0.5"/>
<ellipse cx="140" cy="225" rx="10.0" ry="8.0" fill="#2aa8a0" opacity="0.5"/>
<ellipse cx="110" cy="262" rx="14.0" ry="10.0" fill="#2a9cb0" opacity="0.55"/>
</g>
<g filter="url(#b1c)">
<ellipse cx="110.5" cy="150" rx="1.8" ry="90.0" fill="#80d070" opacity="0.5"/>
<ellipse cx="110.5" cy="128" rx="4.0" ry="4.0" fill="#c8e060" opacity="0.8"/>
<ellipse cx="110.5" cy="192" rx="5.0" ry="5.0" fill="#90d880" opacity="0.7"/>
<ellipse cx="76" cy="200" rx="1.5" ry="22.0" fill="#90d880" opacity="0.5"/>
<ellipse cx="148" cy="200" rx="1.5" ry="22.0" fill="#90d880" opacity="0.5"/>
</g>
</g>
<rect x="0" y="0" width="226" height="282" fill="#ffffff" opacity="0.07" filter="url(#n1)"/>
<rect x="0" y="0" width="226" height="282" fill="#000000" opacity="0.07" filter="url(#m1)"/>
</g></svg>
<svg class="abs" style="left:0;top:0" width="685" height="725" viewBox="0 0 685 725">
<g stroke="#000" stroke-width="2.2" fill="none" stroke-linecap="butt">
<line x1="96" y1="402" x2="96" y2="656"/>
<line x1="86.5" y1="645.7" x2="433.6" y2="645.7"/>
<line x1="86.5" y1="584.9" x2="96" y2="584.9"/>
<line x1="86.5" y1="524.2" x2="96" y2="524.2"/>
<line x1="86.5" y1="463.6" x2="96" y2="463.6"/>
<line x1="86.5" y1="403.0" x2="96" y2="403.0"/>
<line x1="163.3" y1="645.7" x2="163.3" y2="656"/>
<line x1="230.6" y1="645.7" x2="230.6" y2="656"/>
<line x1="298.0" y1="645.7" x2="298.0" y2="656"/>
<line x1="365.3" y1="645.7" x2="365.3" y2="656"/>
<line x1="432.6" y1="645.7" x2="432.6" y2="656"/>
</g>
<polyline points="97.7,600.0 101.0,475.8 104.4,493.9 107.8,502.4 112.8,502.4 119.6,512.1 126.3,521.2 133.0,529.1 139.8,519.4 146.5,529.1 153.2,527.3 160.0,524.9 171.7,528.5 188.6,515.8 205.4,519.4 222.2,518.2 239.1,521.8 255.9,518.2 272.7,514.5 289.5,524.9 306.4,517.6 323.2,517.0 340.0,515.8 356.9,534.0 373.7,531.5 390.5,526.1" fill="none" stroke="#000000" stroke-width="1.4"/>
<polygon points="97.7,596.4 101.4,600.0 97.7,603.7 94.0,600.0" fill="#000000" stroke="none" stroke-linejoin="miter"/><polygon points="101.0,472.1 104.7,475.8 101.0,479.4 97.4,475.8" fill="#000000" stroke="none" stroke-linejoin="miter"/><polygon points="104.4,490.3 108.1,493.9 104.4,497.6 100.7,493.9" fill="#000000" stroke="none" stroke-linejoin="miter"/><polygon points="107.8,498.8 111.5,502.4 107.8,506.1 104.1,502.4" fill="#000000" stroke="none" stroke-linejoin="miter"/><polygon points="112.8,498.8 116.5,502.4 112.8,506.1 109.2,502.4" fill="#000000" stroke="none" stroke-linejoin="miter"/><polygon points="119.6,508.4 123.2,512.1 119.6,515.8 115.9,512.1" fill="#000000" stroke="none" stroke-linejoin="miter"/><polygon points="126.3,517.5 130.0,521.2 126.3,524.9 122.6,521.2" fill="#000000" stroke="none" stroke-linejoin="miter"/><polygon points="133.0,525.4 136.7,529.1 133.0,532.8 129.4,529.1" fill="#000000" stroke="none" stroke-linejoin="miter"/><polygon points="139.8,515.7 143.4,519.4 139.8,523.1 136.1,519.4" fill="#000000" stroke="none" stroke-linejoin="miter"/><polygon points="146.5,525.4 150.2,529.1 146.5,532.8 142.8,529.1" fill="#000000" stroke="none" stroke-linejoin="miter"/><polygon points="153.2,523.6 156.9,527.3 153.2,531.0 149.5,527.3" fill="#000000" stroke="none" stroke-linejoin="miter"/><polygon points="160.0,521.2 163.6,524.9 160.0,528.5 156.3,524.9" fill="#000000" stroke="none" stroke-linejoin="miter"/><polygon points="171.7,524.8 175.4,528.5 171.7,532.2 168.1,528.5" fill="#000000" stroke="none" stroke-linejoin="miter"/><polygon points="188.6,512.1 192.2,515.8 188.6,519.4 184.9,515.8" fill="#000000" stroke="none" stroke-linejoin="miter"/><polygon points="205.4,515.7 209.1,519.4 205.4,523.1 201.7,519.4" fill="#000000" stroke="none" stroke-linejoin="miter"/><polygon points="222.2,514.5 225.9,518.2 222.2,521.9 218.6,518.2" fill="#000000" stroke="none" stroke-linejoin="miter"/><polygon points="239.1,518.2 242.7,521.8 239.1,525.5 235.4,521.8" fill="#000000" stroke="none" stroke-linejoin="miter"/><polygon points="255.9,514.5 259.6,518.2 255.9,521.9 252.2,518.2" fill="#000000" stroke="none" stroke-linejoin="miter"/><polygon points="272.7,510.9 276.4,514.5 272.7,518.2 269.0,514.5" fill="#000000" stroke="none" stroke-linejoin="miter"/><polygon points="289.5,521.2 293.2,524.9 289.5,528.5 285.9,524.9" fill="#000000" stroke="none" stroke-linejoin="miter"/><polygon points="306.4,513.9 310.1,517.6 306.4,521.3 302.7,517.6" fill="#000000" stroke="none" stroke-linejoin="miter"/><polygon points="323.2,513.3 326.9,517.0 323.2,520.6 319.5,517.0" fill="#000000" stroke="none" stroke-linejoin="miter"/><polygon points="340.0,512.1 343.7,515.8 340.0,519.4 336.4,515.8" fill="#000000" stroke="none" stroke-linejoin="miter"/><polygon points="356.9,530.3 360.5,534.0 356.9,537.6 353.2,534.0" fill="#000000" stroke="none" stroke-linejoin="miter"/><polygon points="373.7,527.9 377.4,531.5 373.7,535.2 370.0,531.5" fill="#000000" stroke="none" stroke-linejoin="miter"/><polygon points="390.5,522.4 394.2,526.1 390.5,529.7 386.9,526.1" fill="#000000" stroke="none" stroke-linejoin="miter"/>
<polyline points="97.7,596.4 101.0,498.8 104.4,487.9 107.8,500.0 112.8,506.7 119.6,512.7 126.3,519.4 133.0,522.4 139.8,521.8 146.5,523.0 153.2,521.2 160.0,520.6 171.7,521.2 188.6,518.2 205.4,516.4 222.2,517.6 239.1,518.2 255.9,517.6 272.7,516.4 289.5,516.4 306.4,517.0 323.2,517.0 340.0,516.4 356.9,517.6 373.7,521.2 390.5,524.2" fill="none" stroke="#b22ee8" stroke-width="1.4"/>
<polygon points="97.7,600.1 101.2,593.4 94.2,593.4" fill="#b22ee8" stroke="none" stroke-linejoin="miter"/><polygon points="101.0,502.5 104.5,495.8 97.5,495.8" fill="#b22ee8" stroke="none" stroke-linejoin="miter"/><polygon points="104.4,491.6 107.9,484.9 100.9,484.9" fill="#b22ee8" stroke="none" stroke-linejoin="miter"/><polygon points="107.8,503.7 111.3,497.0 104.3,497.0" fill="#b22ee8" stroke="none" stroke-linejoin="miter"/><polygon points="112.8,510.3 116.3,503.7 109.3,503.7" fill="#b22ee8" stroke="none" stroke-linejoin="miter"/><polygon points="119.6,516.4 123.1,509.8 116.1,509.8" fill="#b22ee8" stroke="none" stroke-linejoin="miter"/><polygon points="126.3,523.1 129.8,516.4 122.8,516.4" fill="#b22ee8" stroke="none" stroke-linejoin="miter"/><polygon points="133.0,526.1 136.5,519.5 129.5,519.5" fill="#b22ee8" stroke="none" stroke-linejoin="miter"/><polygon points="139.8,525.5 143.3,518.9 136.3,518.9" fill="#b22ee8" stroke="none" stroke-linejoin="miter"/><polygon points="146.5,526.7 150.0,520.1 143.0,520.1" fill="#b22ee8" stroke="none" stroke-linejoin="miter"/><polygon points="153.2,524.9 156.7,518.2 149.7,518.2" fill="#b22ee8" stroke="none" stroke-linejoin="miter"/><polygon points="160.0,524.3 163.5,517.6 156.5,517.6" fill="#b22ee8" stroke="none" stroke-linejoin="miter"/><polygon points="171.7,524.9 175.2,518.2 168.2,518.2" fill="#b22ee8" stroke="none" stroke-linejoin="miter"/><polygon points="188.6,521.9 192.1,515.2 185.1,515.2" fill="#b22ee8" stroke="none" stroke-linejoin="miter"/><polygon points="205.4,520.0 208.9,513.4 201.9,513.4" fill="#b22ee8" stroke="none" stroke-linejoin="miter"/><polygon points="222.2,521.3 225.7,514.6 218.7,514.6" fill="#b22ee8" stroke="none" stroke-linejoin="miter"/><polygon points="239.1,521.9 242.6,515.2 235.6,515.2" fill="#b22ee8" stroke="none" stroke-linejoin="miter"/><polygon points="255.9,521.3 259.4,514.6 252.4,514.6" fill="#b22ee8" stroke="none" stroke-linejoin="miter"/><polygon points="272.7,520.0 276.2,513.4 269.2,513.4" fill="#b22ee8" stroke="none" stroke-linejoin="miter"/><polygon points="289.5,520.0 293.0,513.4 286.0,513.4" fill="#b22ee8" stroke="none" stroke-linejoin="miter"/><polygon points="306.4,520.6 309.9,514.0 302.9,514.0" fill="#b22ee8" stroke="none" stroke-linejoin="miter"/><polygon points="323.2,520.6 326.7,514.0 319.7,514.0" fill="#b22ee8" stroke="none" stroke-linejoin="miter"/><polygon points="340.0,520.0 343.5,513.4 336.5,513.4" fill="#b22ee8" stroke="none" stroke-linejoin="miter"/><polygon points="356.9,521.3 360.4,514.6 353.4,514.6" fill="#b22ee8" stroke="none" stroke-linejoin="miter"/><polygon points="373.7,524.9 377.2,518.2 370.2,518.2" fill="#b22ee8" stroke="none" stroke-linejoin="miter"/><polygon points="390.5,527.9 394.0,521.3 387.0,521.3" fill="#b22ee8" stroke="none" stroke-linejoin="miter"/>
<polyline points="97.7,603.1 101.0,516.4 104.4,506.7 107.8,518.2 112.8,535.8 119.6,540.0 126.3,533.3 133.0,537.0 139.8,526.1 146.5,515.8 153.2,536.4 160.0,526.7 171.7,535.2 188.6,533.3 205.4,524.9 222.2,529.7 239.1,523.0 255.9,518.8 272.7,520.6 289.5,518.2 306.4,518.2 323.2,521.2 340.0,520.6 356.9,528.5 373.7,530.3 390.5,530.3" fill="none" stroke="#0e985c" stroke-width="1.4"/>
<polygon points="97.7,599.4 101.2,606.0 94.2,606.0" fill="#0e985c" stroke="none" stroke-linejoin="miter"/><polygon points="101.0,512.7 104.5,519.3 97.5,519.3" fill="#0e985c" stroke="none" stroke-linejoin="miter"/><polygon points="104.4,503.0 107.9,509.6 100.9,509.6" fill="#0e985c" stroke="none" stroke-linejoin="miter"/><polygon points="107.8,514.5 111.3,521.2 104.3,521.2" fill="#0e985c" stroke="none" stroke-linejoin="miter"/><polygon points="112.8,532.1 116.3,538.7 109.3,538.7" fill="#0e985c" stroke="none" stroke-linejoin="miter"/><polygon points="119.6,536.3 123.1,543.0 116.1,543.0" fill="#0e985c" stroke="none" stroke-linejoin="miter"/><polygon points="126.3,529.7 129.8,536.3 122.8,536.3" fill="#0e985c" stroke="none" stroke-linejoin="miter"/><polygon points="133.0,533.3 136.5,540.0 129.5,540.0" fill="#0e985c" stroke="none" stroke-linejoin="miter"/><polygon points="139.8,522.4 143.3,529.0 136.3,529.0" fill="#0e985c" stroke="none" stroke-linejoin="miter"/><polygon points="146.5,512.1 150.0,518.7 143.0,518.7" fill="#0e985c" stroke="none" stroke-linejoin="miter"/><polygon points="153.2,532.7 156.7,539.4 149.7,539.4" fill="#0e985c" stroke="none" stroke-linejoin="miter"/><polygon points="160.0,523.0 163.5,529.6 156.5,529.6" fill="#0e985c" stroke="none" stroke-linejoin="miter"/><polygon points="171.7,531.5 175.2,538.1 168.2,538.1" fill="#0e985c" stroke="none" stroke-linejoin="miter"/><polygon points="188.6,529.7 192.1,536.3 185.1,536.3" fill="#0e985c" stroke="none" stroke-linejoin="miter"/><polygon points="205.4,521.2 208.9,527.8 201.9,527.8" fill="#0e985c" stroke="none" stroke-linejoin="miter"/><polygon points="222.2,526.0 225.7,532.7 218.7,532.7" fill="#0e985c" stroke="none" stroke-linejoin="miter"/><polygon points="239.1,519.4 242.6,526.0 235.6,526.0" fill="#0e985c" stroke="none" stroke-linejoin="miter"/><polygon points="255.9,515.1 259.4,521.8 252.4,521.8" fill="#0e985c" stroke="none" stroke-linejoin="miter"/><polygon points="272.7,516.9 276.2,523.6 269.2,523.6" fill="#0e985c" stroke="none" stroke-linejoin="miter"/><polygon points="289.5,514.5 293.0,521.2 286.0,521.2" fill="#0e985c" stroke="none" stroke-linejoin="miter"/><polygon points="306.4,514.5 309.9,521.2 302.9,521.2" fill="#0e985c" stroke="none" stroke-linejoin="miter"/><polygon points="323.2,517.5 326.7,524.2 319.7,524.2" fill="#0e985c" stroke="none" stroke-linejoin="miter"/><polygon points="340.0,516.9 343.5,523.6 336.5,523.6" fill="#0e985c" stroke="none" stroke-linejoin="miter"/><polygon points="356.9,524.8 360.4,531.5 353.4,531.5" fill="#0e985c" stroke="none" stroke-linejoin="miter"/><polygon points="373.7,526.6 377.2,533.3 370.2,533.3" fill="#0e985c" stroke="none" stroke-linejoin="miter"/><polygon points="390.5,526.6 394.0,533.3 387.0,533.3" fill="#0e985c" stroke="none" stroke-linejoin="miter"/>
<polyline points="97.7,604.3 101.0,526.1 104.4,496.4 107.8,524.2 112.8,530.9 119.6,527.3 126.3,524.9 133.0,535.8 139.8,544.3 146.5,535.2 153.2,541.2 160.0,537.0 171.7,540.6 188.6,538.8 205.4,536.4 222.2,539.4 239.1,530.3 255.9,527.3 272.7,538.2 289.5,541.8 306.4,540.6 323.2,537.0 340.0,534.0 356.9,538.2 373.7,528.5 390.5,553.4" fill="none" stroke="#0000ff" stroke-width="1.4"/>
<rect x="94.2" y="600.8" width="7.0" height="7.0" fill="#0000ff" stroke="none"/><rect x="97.5" y="522.6" width="7.0" height="7.0" fill="#0000ff" stroke="none"/><rect x="100.9" y="492.9" width="7.0" height="7.0" fill="#0000ff" stroke="none"/><rect x="104.3" y="520.8" width="7.0" height="7.0" fill="#0000ff" stroke="none"/><rect x="109.3" y="527.4" width="7.0" height="7.0" fill="#0000ff" stroke="none"/><rect x="116.1" y="523.8" width="7.0" height="7.0" fill="#0000ff" stroke="none"/><rect x="122.8" y="521.4" width="7.0" height="7.0" fill="#0000ff" stroke="none"/><rect x="129.5" y="532.3" width="7.0" height="7.0" fill="#0000ff" stroke="none"/><rect x="136.3" y="540.8" width="7.0" height="7.0" fill="#0000ff" stroke="none"/><rect x="143.0" y="531.7" width="7.0" height="7.0" fill="#0000ff" stroke="none"/><rect x="149.7" y="537.7" width="7.0" height="7.0" fill="#0000ff" stroke="none"/><rect x="156.5" y="533.5" width="7.0" height="7.0" fill="#0000ff" stroke="none"/><rect x="168.2" y="537.1" width="7.0" height="7.0" fill="#0000ff" stroke="none"/><rect x="185.1" y="535.3" width="7.0" height="7.0" fill="#0000ff" stroke="none"/><rect x="201.9" y="532.9" width="7.0" height="7.0" fill="#0000ff" stroke="none"/><rect x="218.7" y="535.9" width="7.0" height="7.0" fill="#0000ff" stroke="none"/><rect x="235.6" y="526.8" width="7.0" height="7.0" fill="#0000ff" stroke="none"/><rect x="252.4" y="523.8" width="7.0" height="7.0" fill="#0000ff" stroke="none"/><rect x="269.2" y="534.7" width="7.0" height="7.0" fill="#0000ff" stroke="none"/><rect x="286.0" y="538.3" width="7.0" height="7.0" fill="#0000ff" stroke="none"/><rect x="302.9" y="537.1" width="7.0" height="7.0" fill="#0000ff" stroke="none"/><rect x="319.7" y="533.5" width="7.0" height="7.0" fill="#0000ff" stroke="none"/><rect x="336.5" y="530.5" width="7.0" height="7.0" fill="#0000ff" stroke="none"/><rect x="353.4" y="534.7" width="7.0" height="7.0" fill="#0000ff" stroke="none"/><rect x="370.2" y="525.0" width="7.0" height="7.0" fill="#0000ff" stroke="none"/><rect x="387.0" y="549.9" width="7.0" height="7.0" fill="#0000ff" stroke="none"/>
<polyline points="97.7,607.9 101.0,547.9 104.4,514.5 107.8,517.6 112.8,517.0 119.6,518.8 126.3,530.3 133.0,522.4 139.8,534.6 146.5,541.8 153.2,520.6 160.0,534.0 171.7,529.1 188.6,527.3 205.4,520.0 222.2,526.1 239.1,529.7 255.9,540.6 272.7,528.5 289.5,541.8 306.4,515.8 323.2,526.1 340.0,548.5 356.9,527.3 373.7,535.8 390.5,550.3" fill="none" stroke="#ff0000" stroke-width="1.4"/>
<circle cx="97.7" cy="607.9" r="3.50" fill="#ff0000" stroke="none"/><circle cx="101.0" cy="547.9" r="3.50" fill="#ff0000" stroke="none"/><circle cx="104.4" cy="514.5" r="3.50" fill="#ff0000" stroke="none"/><circle cx="107.8" cy="517.6" r="3.50" fill="#ff0000" stroke="none"/><circle cx="112.8" cy="517.0" r="3.50" fill="#ff0000" stroke="none"/><circle cx="119.6" cy="518.8" r="3.50" fill="#ff0000" stroke="none"/><circle cx="126.3" cy="530.3" r="3.50" fill="#ff0000" stroke="none"/><circle cx="133.0" cy="522.4" r="3.50" fill="#ff0000" stroke="none"/><circle cx="139.8" cy="534.6" r="3.50" fill="#ff0000" stroke="none"/><circle cx="146.5" cy="541.8" r="3.50" fill="#ff0000" stroke="none"/><circle cx="153.2" cy="520.6" r="3.50" fill="#ff0000" stroke="none"/><circle cx="160.0" cy="534.0" r="3.50" fill="#ff0000" stroke="none"/><circle cx="171.7" cy="529.1" r="3.50" fill="#ff0000" stroke="none"/><circle cx="188.6" cy="527.3" r="3.50" fill="#ff0000" stroke="none"/><circle cx="205.4" cy="520.0" r="3.50" fill="#ff0000" stroke="none"/><circle cx="222.2" cy="526.1" r="3.50" fill="#ff0000" stroke="none"/><circle cx="239.1" cy="529.7" r="3.50" fill="#ff0000" stroke="none"/><circle cx="255.9" cy="540.6" r="3.50" fill="#ff0000" stroke="none"/><circle cx="272.7" cy="528.5" r="3.50" fill="#ff0000" stroke="none"/><circle cx="289.5" cy="541.8" r="3.50" fill="#ff0000" stroke="none"/><circle cx="306.4" cy="515.8" r="3.50" fill="#ff0000" stroke="none"/><circle cx="323.2" cy="526.1" r="3.50" fill="#ff0000" stroke="none"/><circle cx="340.0" cy="548.5" r="3.50" fill="#ff0000" stroke="none"/><circle cx="356.9" cy="527.3" r="3.50" fill="#ff0000" stroke="none"/><circle cx="373.7" cy="535.8" r="3.50" fill="#ff0000" stroke="none"/><circle cx="390.5" cy="550.3" r="3.50" fill="#ff0000" stroke="none"/>
<polyline points="97.7,619.4 101.0,475.8 104.4,421.2 107.8,424.2 112.8,447.9 119.6,449.1 126.3,463.6 133.0,472.7 139.8,478.2 146.5,477.6 153.2,478.8 160.0,474.5 171.7,472.1 188.6,478.2 205.4,477.0 222.2,472.7 239.1,482.4 255.9,490.9 272.7,485.4 289.5,484.8 306.4,492.1 323.2,506.7 340.0,478.2 356.9,486.7 373.7,501.8 390.5,501.8" fill="none" stroke="#000000" stroke-width="1.55" stroke-dasharray="3.6 2.9"/>
<polygon points="97.7,615.4 101.7,619.4 97.7,623.5 93.7,619.4" fill="none" stroke="#000000" stroke-width="2.2" stroke-linejoin="miter"/><polygon points="101.0,471.7 105.1,475.8 101.0,479.8 97.0,475.8" fill="none" stroke="#000000" stroke-width="2.2" stroke-linejoin="miter"/><polygon points="104.4,417.2 108.4,421.2 104.4,425.2 100.4,421.2" fill="none" stroke="#000000" stroke-width="2.2" stroke-linejoin="miter"/><polygon points="107.8,420.2 111.8,424.2 107.8,428.2 103.8,424.2" fill="none" stroke="#000000" stroke-width="2.2" stroke-linejoin="miter"/><polygon points="112.8,443.8 116.9,447.9 112.8,451.9 108.8,447.9" fill="none" stroke="#000000" stroke-width="2.2" stroke-linejoin="miter"/><polygon points="119.6,445.1 123.6,449.1 119.6,453.1 115.5,449.1" fill="none" stroke="#000000" stroke-width="2.2" stroke-linejoin="miter"/><polygon points="126.3,459.6 130.3,463.6 126.3,467.6 122.3,463.6" fill="none" stroke="#000000" stroke-width="2.2" stroke-linejoin="miter"/><polygon points="133.0,468.7 137.1,472.7 133.0,476.7 129.0,472.7" fill="none" stroke="#000000" stroke-width="2.2" stroke-linejoin="miter"/><polygon points="139.8,474.1 143.8,478.2 139.8,482.2 135.7,478.2" fill="none" stroke="#000000" stroke-width="2.2" stroke-linejoin="miter"/><polygon points="146.5,473.5 150.5,477.6 146.5,481.6 142.5,477.6" fill="none" stroke="#000000" stroke-width="2.2" stroke-linejoin="miter"/><polygon points="153.2,474.8 157.2,478.8 153.2,482.8 149.2,478.8" fill="none" stroke="#000000" stroke-width="2.2" stroke-linejoin="miter"/><polygon points="160.0,470.5 164.0,474.5 160.0,478.6 155.9,474.5" fill="none" stroke="#000000" stroke-width="2.2" stroke-linejoin="miter"/><polygon points="171.7,468.1 175.8,472.1 171.7,476.1 167.7,472.1" fill="none" stroke="#000000" stroke-width="2.2" stroke-linejoin="miter"/><polygon points="188.6,474.1 192.6,478.2 188.6,482.2 184.5,478.2" fill="none" stroke="#000000" stroke-width="2.2" stroke-linejoin="miter"/><polygon points="205.4,472.9 209.4,477.0 205.4,481.0 201.4,477.0" fill="none" stroke="#000000" stroke-width="2.2" stroke-linejoin="miter"/><polygon points="222.2,468.7 226.3,472.7 222.2,476.7 218.2,472.7" fill="none" stroke="#000000" stroke-width="2.2" stroke-linejoin="miter"/><polygon points="239.1,478.4 243.1,482.4 239.1,486.4 235.0,482.4" fill="none" stroke="#000000" stroke-width="2.2" stroke-linejoin="miter"/><polygon points="255.9,486.9 259.9,490.9 255.9,494.9 251.9,490.9" fill="none" stroke="#000000" stroke-width="2.2" stroke-linejoin="miter"/><polygon points="272.7,481.4 276.7,485.4 272.7,489.5 268.7,485.4" fill="none" stroke="#000000" stroke-width="2.2" stroke-linejoin="miter"/><polygon points="289.5,480.8 293.6,484.8 289.5,488.9 285.5,484.8" fill="none" stroke="#000000" stroke-width="2.2" stroke-linejoin="miter"/><polygon points="306.4,488.1 310.4,492.1 306.4,496.1 302.4,492.1" fill="none" stroke="#000000" stroke-width="2.2" stroke-linejoin="miter"/><polygon points="323.2,502.6 327.2,506.7 323.2,510.7 319.2,506.7" fill="none" stroke="#000000" stroke-width="2.2" stroke-linejoin="miter"/><polygon points="340.0,474.1 344.1,478.2 340.0,482.2 336.0,478.2" fill="none" stroke="#000000" stroke-width="2.2" stroke-linejoin="miter"/><polygon points="356.9,482.6 360.9,486.7 356.9,490.7 352.8,486.7" fill="none" stroke="#000000" stroke-width="2.2" stroke-linejoin="miter"/><polygon points="373.7,497.8 377.7,501.8 373.7,505.8 369.7,501.8" fill="none" stroke="#000000" stroke-width="2.2" stroke-linejoin="miter"/><polygon points="390.5,497.8 394.6,501.8 390.5,505.8 386.5,501.8" fill="none" stroke="#000000" stroke-width="2.2" stroke-linejoin="miter"/>
<polyline points="97.7,622.5 101.0,500.0 104.4,433.3 107.8,451.5 112.8,459.4 119.6,463.0 126.3,468.5 133.0,472.7 139.8,476.4 146.5,477.0 153.2,480.0 160.0,481.8 171.7,483.0 188.6,481.2 205.4,481.8 222.2,484.2 239.1,487.9 255.9,490.9 272.7,487.9 289.5,490.3 306.4,492.7 323.2,499.4 340.0,498.2 356.9,503.0 373.7,503.0 390.5,501.2" fill="none" stroke="#b22ee8" stroke-width="1.55" stroke-dasharray="3.6 2.9"/>
<polygon points="97.7,626.0 101.0,619.6 94.4,619.6" fill="none" stroke="#b22ee8" stroke-width="2.2" stroke-linejoin="miter"/><polygon points="101.0,503.5 104.4,497.2 97.7,497.2" fill="none" stroke="#b22ee8" stroke-width="2.2" stroke-linejoin="miter"/><polygon points="104.4,436.8 107.7,430.5 101.1,430.5" fill="none" stroke="#b22ee8" stroke-width="2.2" stroke-linejoin="miter"/><polygon points="107.8,455.0 111.1,448.7 104.5,448.7" fill="none" stroke="#b22ee8" stroke-width="2.2" stroke-linejoin="miter"/><polygon points="112.8,462.9 116.2,456.6 109.5,456.6" fill="none" stroke="#b22ee8" stroke-width="2.2" stroke-linejoin="miter"/><polygon points="119.6,466.5 122.9,460.2 116.2,460.2" fill="none" stroke="#b22ee8" stroke-width="2.2" stroke-linejoin="miter"/><polygon points="126.3,472.0 129.6,465.6 123.0,465.6" fill="none" stroke="#b22ee8" stroke-width="2.2" stroke-linejoin="miter"/><polygon points="133.0,476.2 136.4,469.9 129.7,469.9" fill="none" stroke="#b22ee8" stroke-width="2.2" stroke-linejoin="miter"/><polygon points="139.8,479.8 143.1,473.5 136.4,473.5" fill="none" stroke="#b22ee8" stroke-width="2.2" stroke-linejoin="miter"/><polygon points="146.5,480.5 149.8,474.1 143.2,474.1" fill="none" stroke="#b22ee8" stroke-width="2.2" stroke-linejoin="miter"/><polygon points="153.2,483.5 156.5,477.2 149.9,477.2" fill="none" stroke="#b22ee8" stroke-width="2.2" stroke-linejoin="miter"/><polygon points="160.0,485.3 163.3,479.0 156.6,479.0" fill="none" stroke="#b22ee8" stroke-width="2.2" stroke-linejoin="miter"/><polygon points="171.7,486.5 175.1,480.2 168.4,480.2" fill="none" stroke="#b22ee8" stroke-width="2.2" stroke-linejoin="miter"/><polygon points="188.6,484.7 191.9,478.4 185.2,478.4" fill="none" stroke="#b22ee8" stroke-width="2.2" stroke-linejoin="miter"/><polygon points="205.4,485.3 208.7,479.0 202.1,479.0" fill="none" stroke="#b22ee8" stroke-width="2.2" stroke-linejoin="miter"/><polygon points="222.2,487.7 225.6,481.4 218.9,481.4" fill="none" stroke="#b22ee8" stroke-width="2.2" stroke-linejoin="miter"/><polygon points="239.1,491.4 242.4,485.0 235.7,485.0" fill="none" stroke="#b22ee8" stroke-width="2.2" stroke-linejoin="miter"/><polygon points="255.9,494.4 259.2,488.1 252.6,488.1" fill="none" stroke="#b22ee8" stroke-width="2.2" stroke-linejoin="miter"/><polygon points="272.7,491.4 276.0,485.0 269.4,485.0" fill="none" stroke="#b22ee8" stroke-width="2.2" stroke-linejoin="miter"/><polygon points="289.5,493.8 292.9,487.5 286.2,487.5" fill="none" stroke="#b22ee8" stroke-width="2.2" stroke-linejoin="miter"/><polygon points="306.4,496.2 309.7,489.9 303.1,489.9" fill="none" stroke="#b22ee8" stroke-width="2.2" stroke-linejoin="miter"/><polygon points="323.2,502.9 326.5,496.6 319.9,496.6" fill="none" stroke="#b22ee8" stroke-width="2.2" stroke-linejoin="miter"/><polygon points="340.0,501.7 343.4,495.4 336.7,495.4" fill="none" stroke="#b22ee8" stroke-width="2.2" stroke-linejoin="miter"/><polygon points="356.9,506.5 360.2,500.2 353.5,500.2" fill="none" stroke="#b22ee8" stroke-width="2.2" stroke-linejoin="miter"/><polygon points="373.7,506.5 377.0,500.2 370.4,500.2" fill="none" stroke="#b22ee8" stroke-width="2.2" stroke-linejoin="miter"/><polygon points="390.5,504.7 393.9,498.4 387.2,498.4" fill="none" stroke="#b22ee8" stroke-width="2.2" stroke-linejoin="miter"/>
<polyline points="97.7,627.3 101.0,524.2 104.4,462.4 107.8,464.2 112.8,472.7 119.6,480.0 126.3,481.8 133.0,484.2 139.8,507.3 146.5,497.0 153.2,493.9 160.0,492.1 171.7,494.5 188.6,497.0 205.4,495.8 222.2,491.5 239.1,509.7 255.9,512.1 272.7,505.5 289.5,498.2 306.4,510.3 323.2,503.0 340.0,506.1 356.9,495.1 373.7,521.2 390.5,488.5" fill="none" stroke="#0e985c" stroke-width="1.55" stroke-dasharray="3.6 2.9"/>
<polygon points="97.7,623.8 101.0,630.1 94.4,630.1" fill="none" stroke="#0e985c" stroke-width="2.2" stroke-linejoin="miter"/><polygon points="101.0,520.8 104.4,527.1 97.7,527.1" fill="none" stroke="#0e985c" stroke-width="2.2" stroke-linejoin="miter"/><polygon points="104.4,458.9 107.7,465.2 101.1,465.2" fill="none" stroke="#0e985c" stroke-width="2.2" stroke-linejoin="miter"/><polygon points="107.8,460.7 111.1,467.1 104.5,467.1" fill="none" stroke="#0e985c" stroke-width="2.2" stroke-linejoin="miter"/><polygon points="112.8,469.2 116.2,475.5 109.5,475.5" fill="none" stroke="#0e985c" stroke-width="2.2" stroke-linejoin="miter"/><polygon points="119.6,476.5 122.9,482.8 116.2,482.8" fill="none" stroke="#0e985c" stroke-width="2.2" stroke-linejoin="miter"/><polygon points="126.3,478.3 129.6,484.6 123.0,484.6" fill="none" stroke="#0e985c" stroke-width="2.2" stroke-linejoin="miter"/><polygon points="133.0,480.7 136.4,487.1 129.7,487.1" fill="none" stroke="#0e985c" stroke-width="2.2" stroke-linejoin="miter"/><polygon points="139.8,503.8 143.1,510.1 136.4,510.1" fill="none" stroke="#0e985c" stroke-width="2.2" stroke-linejoin="miter"/><polygon points="146.5,493.5 149.8,499.8 143.2,499.8" fill="none" stroke="#0e985c" stroke-width="2.2" stroke-linejoin="miter"/><polygon points="153.2,490.4 156.5,496.8 149.9,496.8" fill="none" stroke="#0e985c" stroke-width="2.2" stroke-linejoin="miter"/><polygon points="160.0,488.6 163.3,494.9 156.6,494.9" fill="none" stroke="#0e985c" stroke-width="2.2" stroke-linejoin="miter"/><polygon points="171.7,491.1 175.1,497.4 168.4,497.4" fill="none" stroke="#0e985c" stroke-width="2.2" stroke-linejoin="miter"/><polygon points="188.6,493.5 191.9,499.8 185.2,499.8" fill="none" stroke="#0e985c" stroke-width="2.2" stroke-linejoin="miter"/><polygon points="205.4,492.3 208.7,498.6 202.1,498.6" fill="none" stroke="#0e985c" stroke-width="2.2" stroke-linejoin="miter"/><polygon points="222.2,488.0 225.6,494.3 218.9,494.3" fill="none" stroke="#0e985c" stroke-width="2.2" stroke-linejoin="miter"/><polygon points="239.1,506.2 242.4,512.5 235.7,512.5" fill="none" stroke="#0e985c" stroke-width="2.2" stroke-linejoin="miter"/><polygon points="255.9,508.6 259.2,515.0 252.6,515.0" fill="none" stroke="#0e985c" stroke-width="2.2" stroke-linejoin="miter"/><polygon points="272.7,502.0 276.0,508.3 269.4,508.3" fill="none" stroke="#0e985c" stroke-width="2.2" stroke-linejoin="miter"/><polygon points="289.5,494.7 292.9,501.0 286.2,501.0" fill="none" stroke="#0e985c" stroke-width="2.2" stroke-linejoin="miter"/><polygon points="306.4,506.8 309.7,513.1 303.1,513.1" fill="none" stroke="#0e985c" stroke-width="2.2" stroke-linejoin="miter"/><polygon points="323.2,499.5 326.5,505.9 319.9,505.9" fill="none" stroke="#0e985c" stroke-width="2.2" stroke-linejoin="miter"/><polygon points="340.0,502.6 343.4,508.9 336.7,508.9" fill="none" stroke="#0e985c" stroke-width="2.2" stroke-linejoin="miter"/><polygon points="356.9,491.7 360.2,498.0 353.5,498.0" fill="none" stroke="#0e985c" stroke-width="2.2" stroke-linejoin="miter"/><polygon points="373.7,517.7 377.0,524.0 370.4,524.0" fill="none" stroke="#0e985c" stroke-width="2.2" stroke-linejoin="miter"/><polygon points="390.5,485.0 393.9,491.3 387.2,491.3" fill="none" stroke="#0e985c" stroke-width="2.2" stroke-linejoin="miter"/>
<polyline points="97.7,627.9 101.0,530.3 104.4,441.8 107.8,485.4 112.8,466.7 119.6,481.8 126.3,493.9 133.0,495.1 139.8,500.0 146.5,497.0 153.2,500.0 160.0,503.6 171.7,503.0 188.6,487.9 205.4,501.8 222.2,510.9 239.1,503.6 255.9,509.7 272.7,500.0 289.5,508.5 306.4,512.7 323.2,529.7 340.0,515.2 356.9,539.4 373.7,538.8 390.5,531.5" fill="none" stroke="#0000ff" stroke-width="1.55" stroke-dasharray="3.6 2.9"/>
<rect x="94.4" y="624.6" width="6.6" height="6.6" fill="none" stroke="#0000ff" stroke-width="2.2"/><rect x="97.7" y="527.0" width="6.6" height="6.6" fill="none" stroke="#0000ff" stroke-width="2.2"/><rect x="101.1" y="438.5" width="6.6" height="6.6" fill="none" stroke="#0000ff" stroke-width="2.2"/><rect x="104.5" y="482.1" width="6.6" height="6.6" fill="none" stroke="#0000ff" stroke-width="2.2"/><rect x="109.5" y="463.4" width="6.6" height="6.6" fill="none" stroke="#0000ff" stroke-width="2.2"/><rect x="116.3" y="478.5" width="6.6" height="6.6" fill="none" stroke="#0000ff" stroke-width="2.2"/><rect x="123.0" y="490.6" width="6.6" height="6.6" fill="none" stroke="#0000ff" stroke-width="2.2"/><rect x="129.7" y="491.8" width="6.6" height="6.6" fill="none" stroke="#0000ff" stroke-width="2.2"/><rect x="136.5" y="496.7" width="6.6" height="6.6" fill="none" stroke="#0000ff" stroke-width="2.2"/><rect x="143.2" y="493.7" width="6.6" height="6.6" fill="none" stroke="#0000ff" stroke-width="2.2"/><rect x="149.9" y="496.7" width="6.6" height="6.6" fill="none" stroke="#0000ff" stroke-width="2.2"/><rect x="156.7" y="500.3" width="6.6" height="6.6" fill="none" stroke="#0000ff" stroke-width="2.2"/><rect x="168.4" y="499.7" width="6.6" height="6.6" fill="none" stroke="#0000ff" stroke-width="2.2"/><rect x="185.3" y="484.6" width="6.6" height="6.6" fill="none" stroke="#0000ff" stroke-width="2.2"/><rect x="202.1" y="498.5" width="6.6" height="6.6" fill="none" stroke="#0000ff" stroke-width="2.2"/><rect x="218.9" y="507.6" width="6.6" height="6.6" fill="none" stroke="#0000ff" stroke-width="2.2"/><rect x="235.8" y="500.3" width="6.6" height="6.6" fill="none" stroke="#0000ff" stroke-width="2.2"/><rect x="252.6" y="506.4" width="6.6" height="6.6" fill="none" stroke="#0000ff" stroke-width="2.2"/><rect x="269.4" y="496.7" width="6.6" height="6.6" fill="none" stroke="#0000ff" stroke-width="2.2"/><rect x="286.2" y="505.2" width="6.6" height="6.6" fill="none" stroke="#0000ff" stroke-width="2.2"/><rect x="303.1" y="509.4" width="6.6" height="6.6" fill="none" stroke="#0000ff" stroke-width="2.2"/><rect x="319.9" y="526.4" width="6.6" height="6.6" fill="none" stroke="#0000ff" stroke-width="2.2"/><rect x="336.7" y="511.9" width="6.6" height="6.6" fill="none" stroke="#0000ff" stroke-width="2.2"/><rect x="353.6" y="536.1" width="6.6" height="6.6" fill="none" stroke="#0000ff" stroke-width="2.2"/><rect x="370.4" y="535.5" width="6.6" height="6.6" fill="none" stroke="#0000ff" stroke-width="2.2"/><rect x="387.2" y="528.2" width="6.6" height="6.6" fill="none" stroke="#0000ff" stroke-width="2.2"/>
<polyline points="97.7,632.8 101.0,536.4 104.4,472.1 107.8,472.1 112.8,473.3 119.6,470.9 126.3,475.8 133.0,476.4 139.8,489.1 146.5,489.1 153.2,491.5 160.0,495.1 171.7,495.8 188.6,490.9 205.4,491.5 222.2,491.5 239.1,507.3 255.9,510.9 272.7,507.3 289.5,504.2 306.4,512.1 323.2,516.4 340.0,530.3 356.9,520.6 373.7,512.7 390.5,524.9" fill="none" stroke="#ff0000" stroke-width="1.55" stroke-dasharray="3.6 2.9"/>
<circle cx="97.7" cy="632.8" r="3.40" fill="none" stroke="#ff0000" stroke-width="2.2"/><circle cx="101.0" cy="536.4" r="3.40" fill="none" stroke="#ff0000" stroke-width="2.2"/><circle cx="104.4" cy="472.1" r="3.40" fill="none" stroke="#ff0000" stroke-width="2.2"/><circle cx="107.8" cy="472.1" r="3.40" fill="none" stroke="#ff0000" stroke-width="2.2"/><circle cx="112.8" cy="473.3" r="3.40" fill="none" stroke="#ff0000" stroke-width="2.2"/><circle cx="119.6" cy="470.9" r="3.40" fill="none" stroke="#ff0000" stroke-width="2.2"/><circle cx="126.3" cy="475.8" r="3.40" fill="none" stroke="#ff0000" stroke-width="2.2"/><circle cx="133.0" cy="476.4" r="3.40" fill="none" stroke="#ff0000" stroke-width="2.2"/><circle cx="139.8" cy="489.1" r="3.40" fill="none" stroke="#ff0000" stroke-width="2.2"/><circle cx="146.5" cy="489.1" r="3.40" fill="none" stroke="#ff0000" stroke-width="2.2"/><circle cx="153.2" cy="491.5" r="3.40" fill="none" stroke="#ff0000" stroke-width="2.2"/><circle cx="160.0" cy="495.1" r="3.40" fill="none" stroke="#ff0000" stroke-width="2.2"/><circle cx="171.7" cy="495.8" r="3.40" fill="none" stroke="#ff0000" stroke-width="2.2"/><circle cx="188.6" cy="490.9" r="3.40" fill="none" stroke="#ff0000" stroke-width="2.2"/><circle cx="205.4" cy="491.5" r="3.40" fill="none" stroke="#ff0000" stroke-width="2.2"/><circle cx="222.2" cy="491.5" r="3.40" fill="none" stroke="#ff0000" stroke-width="2.2"/><circle cx="239.1" cy="507.3" r="3.40" fill="none" stroke="#ff0000" stroke-width="2.2"/><circle cx="255.9" cy="510.9" r="3.40" fill="none" stroke="#ff0000" stroke-width="2.2"/><circle cx="272.7" cy="507.3" r="3.40" fill="none" stroke="#ff0000" stroke-width="2.2"/><circle cx="289.5" cy="504.2" r="3.40" fill="none" stroke="#ff0000" stroke-width="2.2"/><circle cx="306.4" cy="512.1" r="3.40" fill="none" stroke="#ff0000" stroke-width="2.2"/><circle cx="323.2" cy="516.4" r="3.40" fill="none" stroke="#ff0000" stroke-width="2.2"/><circle cx="340.0" cy="530.3" r="3.40" fill="none" stroke="#ff0000" stroke-width="2.2"/><circle cx="356.9" cy="520.6" r="3.40" fill="none" stroke="#ff0000" stroke-width="2.2"/><circle cx="373.7" cy="512.7" r="3.40" fill="none" stroke="#ff0000" stroke-width="2.2"/><circle cx="390.5" cy="524.9" r="3.40" fill="none" stroke="#ff0000" stroke-width="2.2"/>
</svg>
<svg class="abs" style="left:0;top:0" width="685" height="725" viewBox="0 0 685 725">
<line x1="451.2" y1="478.0" x2="471" y2="478.0" stroke="#ff0000" stroke-width="1.15"/>
<circle cx="461.3" cy="478.0" r="3.00" fill="#ff0000" stroke="none"/>
<line x1="451.2" y1="508.8" x2="471" y2="508.8" stroke="#0e985c" stroke-width="1.15"/>
<polygon points="460.5,505.7 463.5,511.4 457.5,511.4" fill="#0e985c" stroke="none" stroke-linejoin="miter"/>
<line x1="451.2" y1="541.4" x2="471" y2="541.4" stroke="#0000ff" stroke-width="1.15"/>
<rect x="458.1" y="538.4" width="6.0" height="6.0" fill="#0000ff" stroke="none"/>
<line x1="451.2" y1="572.4" x2="471" y2="572.4" stroke="#b22ee8" stroke-width="1.15"/>
<polygon points="461.1,575.5 464.1,569.9 458.1,569.9" fill="#b22ee8" stroke="none" stroke-linejoin="miter"/>
<line x1="451.2" y1="605.3" x2="471" y2="605.3" stroke="#000000" stroke-width="1.15"/>
<polygon points="461.3,602.7 463.9,605.3 461.3,607.9 458.7,605.3" fill="#000000" stroke="none" stroke-linejoin="miter"/>
<line x1="566.9" y1="478.1" x2="587" y2="478.1" stroke="#ff0000" stroke-width="1.3" stroke-dasharray="2.2 2.1"/>
<circle cx="576.7" cy="478.1" r="2.90" fill="none" stroke="#ff0000" stroke-width="2.0"/>
<line x1="566.9" y1="510.8" x2="587" y2="510.8" stroke="#0e985c" stroke-width="1.3" stroke-dasharray="2.2 2.1"/>
<polygon points="576.7,507.8 579.6,513.2 573.9,513.2" fill="none" stroke="#0e985c" stroke-width="2.0" stroke-linejoin="miter"/>
<line x1="566.9" y1="544.9" x2="587" y2="544.9" stroke="#0000ff" stroke-width="1.3" stroke-dasharray="2.2 2.1"/>
<rect x="574.1" y="542.1" width="5.6" height="5.6" fill="none" stroke="#0000ff" stroke-width="2.0"/>
<line x1="567.6" y1="576.4" x2="587.6" y2="576.4" stroke="#b22ee8" stroke-width="1.3" stroke-dasharray="2.2 2.1"/>
<polygon points="577.6,579.4 580.5,574.0 574.8,574.0" fill="none" stroke="#b22ee8" stroke-width="2.0" stroke-linejoin="miter"/>
<line x1="567.9" y1="605.4" x2="587.9" y2="605.4" stroke="#000000" stroke-width="1.3" stroke-dasharray="2.2 2.1"/>
<polygon points="578.4,601.9 581.9,605.4 578.4,608.9 574.9,605.4" fill="none" stroke="#000000" stroke-width="2.0" stroke-linejoin="miter"/>
</svg>
<div class="t" style="left:12.5px;top:11px;font-size:34px;font-weight:bold;">A</div>
<div class="t" style="left:130px;top:32.3px;font-size:22.7px;font-weight:bold;">Baseline</div>
<div class="t" style="left:369.5px;top:35.5px;font-size:22.6px;font-weight:bold;">Preblock</div>
<div class="t" style="left:569px;top:150.5px;font-size:23px;font-weight:bold;">SUV</div>
<div class="t" style="left:638.5px;top:182px;font-size:23px;font-weight:bold;">0.5</div>
<div class="t" style="left:649.5px;top:324.3px;font-size:23.5px;font-weight:bold;">0</div>
<div class="t" style="left:14px;top:372px;font-size:33px;font-weight:bold;">B</div>
<div class="t" style="right:601.2px;top:637.4px;font-size:18px;font-weight:bold;transform:scaleX(0.945);transform-origin:100% 50%;">0.0</div>
<div class="t" style="right:601.2px;top:576.8px;font-size:18px;font-weight:bold;transform:scaleX(0.945);transform-origin:100% 50%;">0.1</div>
<div class="t" style="right:601.2px;top:516.1px;font-size:18px;font-weight:bold;transform:scaleX(0.945);transform-origin:100% 50%;">0.2</div>
<div class="t" style="right:601.2px;top:455.5px;font-size:18px;font-weight:bold;transform:scaleX(0.945);transform-origin:100% 50%;">0.3</div>
<div class="t" style="right:601.2px;top:394.9px;font-size:18px;font-weight:bold;transform:scaleX(0.945);transform-origin:100% 50%;">0.4</div>
<div class="t" style="left:66.0px;width:60px;text-align:center;top:661px;font-size:18px;font-weight:bold;transform:scaleX(0.945);">0</div>
<div class="t" style="left:133.3px;width:60px;text-align:center;top:661px;font-size:18px;font-weight:bold;transform:scaleX(0.945);">20</div>
<div class="t" style="left:200.6px;width:60px;text-align:center;top:661px;font-size:18px;font-weight:bold;transform:scaleX(0.945);">40</div>
<div class="t" style="left:268.0px;width:60px;text-align:center;top:661px;font-size:18px;font-weight:bold;transform:scaleX(0.945);">60</div>
<div class="t" style="left:335.3px;width:60px;text-align:center;top:661px;font-size:18px;font-weight:bold;transform:scaleX(0.945);">80</div>
<div class="t" style="left:402.6px;width:60px;text-align:center;top:661px;font-size:18px;font-weight:bold;transform:scaleX(0.945);">100</div>
<div class="t" style="left:219px;top:691px;font-size:22.7px;font-weight:bold;">Time (min)</div>
<div class="t" style="left:16.3px;top:545.2px;font-size:24px;font-weight:bold;transform-origin:0 0;transform:rotate(-90deg) scaleX(0.97);">SUV</div>
<div class="t" style="left:479px;top:471.2px;font-size:16.6px;">ST-C</div>
<div class="t" style="left:479px;top:502.4px;font-size:16.6px;">Hip-C</div>
<div class="t" style="left:479px;top:533.4px;font-size:16.6px;">Tha-C</div>
<div class="t" style="left:479px;top:566.4px;font-size:16.6px;">CB-C</div>
<div class="t" style="left:479px;top:597.4px;font-size:16.6px;">WB-C</div>
<div class="t" style="left:599px;top:471.2px;font-size:16.6px;">ST-B</div>
<div class="t" style="left:599px;top:502.4px;font-size:16.6px;">Hip-B</div>
<div class="t" style="left:599px;top:533.4px;font-size:16.6px;">Tha-B</div>
<div class="t" style="left:599px;top:566.4px;font-size:16.6px;">CB-B</div>
<div class="t" style="left:599px;top:597.4px;font-size:16.6px;">WB-B</div>
<div class="abs" style="left:570.2px;top:187px;width:58.3px;height:161.4px;background:linear-gradient(to bottom,#ff0c00 0%,#ff2800 4%,#ff6000 11%,#ffb000 20%,#ffff00 28%,#c8ff00 34%,#a0ff00 40%,#70ff10 48%,#20ff60 56%,#00ff90 63%,#00d0c0 67.5%,#00a8ff 73%,#0060c0 79%,#002880 84.5%,#000058 89%,#000030 94%,#000010 100%);"></div>
</body></html>
